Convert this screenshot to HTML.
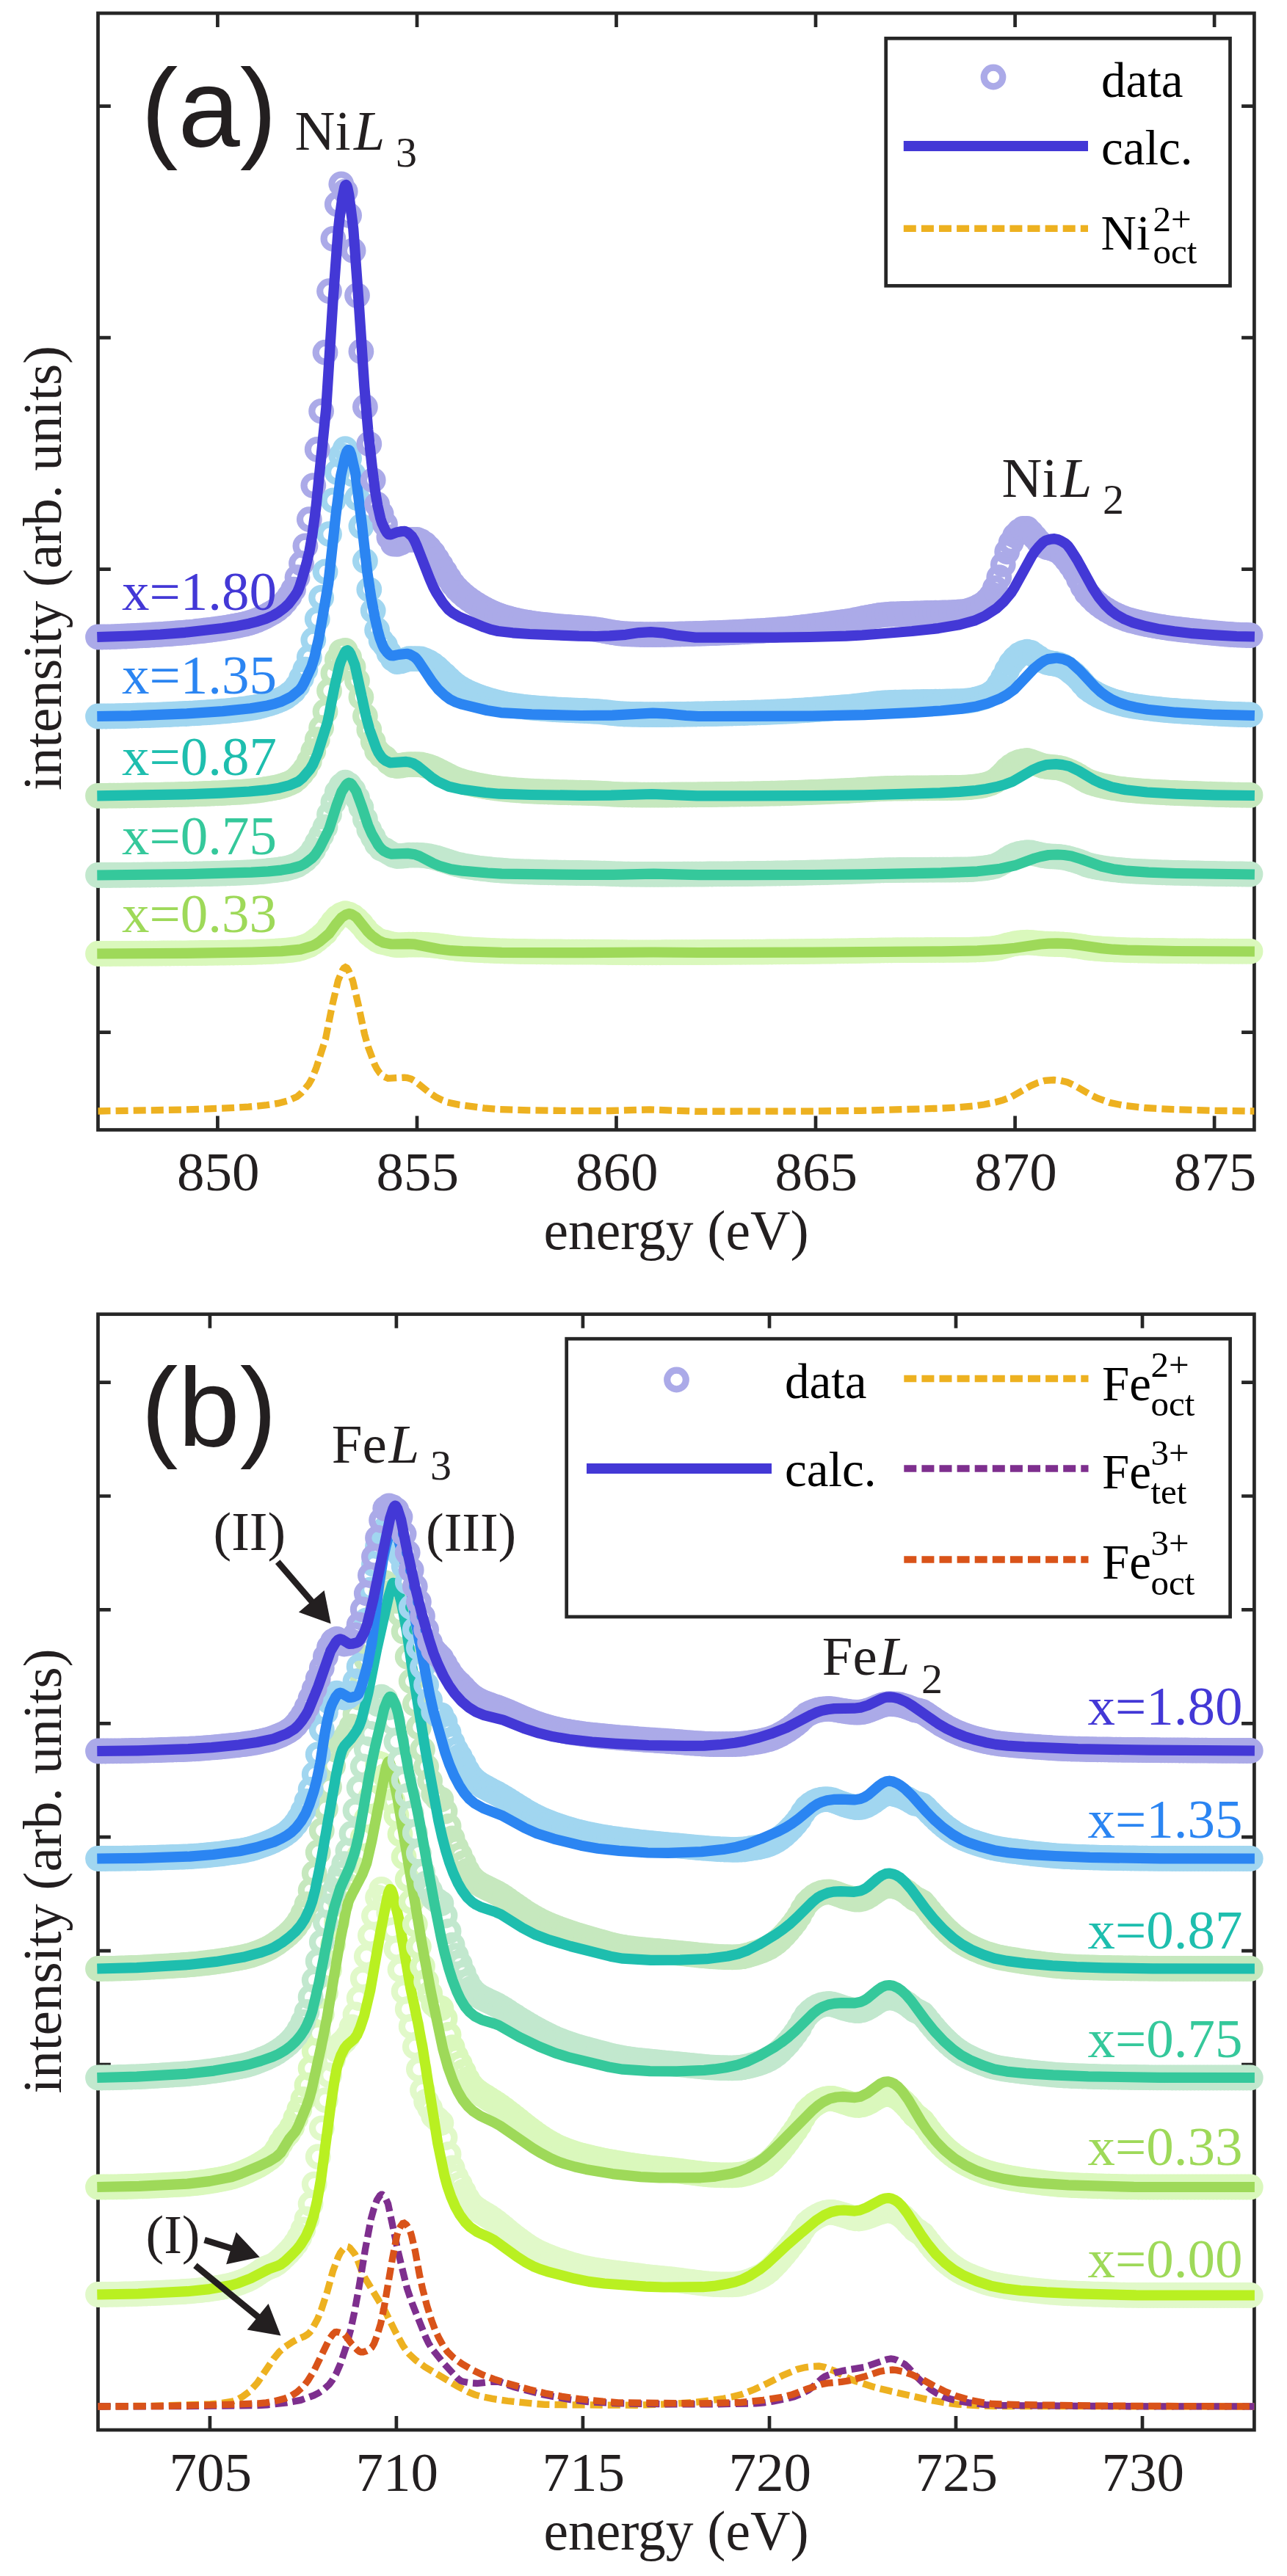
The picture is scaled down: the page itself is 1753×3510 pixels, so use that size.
<!DOCTYPE html>
<html><head><meta charset="utf-8"><title>XAS spectra</title>
<style>html,body{margin:0;padding:0;background:#fff}svg{display:block}</style></head>
<body>
<svg width="1753" height="3510" viewBox="0 0 1753 3510">
<defs><marker id="ma0" markerUnits="userSpaceOnUse" markerWidth="40" markerHeight="40" refX="20" refY="20" overflow="visible"><circle cx="20" cy="20" r="12.8" fill="none" stroke="#daf8bc" stroke-width="9.2"/></marker><marker id="ma1" markerUnits="userSpaceOnUse" markerWidth="40" markerHeight="40" refX="20" refY="20" overflow="visible"><circle cx="20" cy="20" r="12.8" fill="none" stroke="#c2e8ce" stroke-width="9.2"/></marker><marker id="ma2" markerUnits="userSpaceOnUse" markerWidth="40" markerHeight="40" refX="20" refY="20" overflow="visible"><circle cx="20" cy="20" r="12.8" fill="none" stroke="#c6e8be" stroke-width="9.2"/></marker><marker id="ma3" markerUnits="userSpaceOnUse" markerWidth="40" markerHeight="40" refX="20" refY="20" overflow="visible"><circle cx="20" cy="20" r="12.8" fill="none" stroke="#a1d6f0" stroke-width="9.2"/></marker><marker id="ma4" markerUnits="userSpaceOnUse" markerWidth="40" markerHeight="40" refX="20" refY="20" overflow="visible"><circle cx="20" cy="20" r="12.8" fill="none" stroke="#abaae8" stroke-width="9.2"/></marker><marker id="mb0" markerUnits="userSpaceOnUse" markerWidth="40" markerHeight="40" refX="20" refY="20" overflow="visible"><circle cx="20" cy="20" r="12.8" fill="none" stroke="#e1f9c9" stroke-width="9.2"/></marker><marker id="mb1" markerUnits="userSpaceOnUse" markerWidth="40" markerHeight="40" refX="20" refY="20" overflow="visible"><circle cx="20" cy="20" r="12.8" fill="none" stroke="#daf8bc" stroke-width="9.2"/></marker><marker id="mb2" markerUnits="userSpaceOnUse" markerWidth="40" markerHeight="40" refX="20" refY="20" overflow="visible"><circle cx="20" cy="20" r="12.8" fill="none" stroke="#c2e8ce" stroke-width="9.2"/></marker><marker id="mb3" markerUnits="userSpaceOnUse" markerWidth="40" markerHeight="40" refX="20" refY="20" overflow="visible"><circle cx="20" cy="20" r="12.8" fill="none" stroke="#c6e8be" stroke-width="9.2"/></marker><marker id="mb4" markerUnits="userSpaceOnUse" markerWidth="40" markerHeight="40" refX="20" refY="20" overflow="visible"><circle cx="20" cy="20" r="12.8" fill="none" stroke="#a1d6f0" stroke-width="9.2"/></marker><marker id="mb5" markerUnits="userSpaceOnUse" markerWidth="40" markerHeight="40" refX="20" refY="20" overflow="visible"><circle cx="20" cy="20" r="12.8" fill="none" stroke="#abaae8" stroke-width="9.2"/></marker></defs>
<rect width="1753" height="3510" fill="#fff"/>
<rect x="133.5" y="18" width="1574.9" height="1521.5" fill="none" stroke="#262626" stroke-width="4.7"/>
<path d="M296.4,1539.5 v-19 M296.4,18 v19 M568,1539.5 v-19 M568,18 v19 M839.5,1539.5 v-19 M839.5,18 v19 M1111,1539.5 v-19 M1111,18 v19 M1382.6,1539.5 v-19 M1382.6,18 v19 M1654.1,1539.5 v-19 M1654.1,18 v19 M133.5,144.6 h17.3 M1708.4,144.6 h-17.3 M133.5,460.1 h17.3 M1708.4,460.1 h-17.3 M133.5,775.6 h17.3 M1708.4,775.6 h-17.3 M133.5,1091.2 h17.3 M1708.4,1091.2 h-17.3 M133.5,1406.7 h17.3 M1708.4,1406.7 h-17.3" fill="none" stroke="#262626" stroke-width="4.7"/>
<path d="M133.5,1514 252.5,1512 302.5,1510.2 338.5,1508.2 361.5,1506 378.5,1503.4 392.5,1499.7 404.5,1494.4 410.5,1489.2 420.5,1477.3 424.5,1470.3 430.5,1455.9 443.5,1415.3 452.5,1370.2 460.5,1336.2 466.5,1322 468.5,1319 470.5,1317.8 472.5,1318.9 474.5,1321.8 480.5,1336.3 488.5,1370.9 496.5,1408.9 501.5,1426.7 510.5,1450.9 513.5,1456.7 517.5,1462.4 523.5,1467.2 528.5,1469.4 550.5,1468.1 554.5,1468.6 560.5,1470.4 566.5,1474 584.5,1488.6 593.5,1494.7 602.5,1499.2 609.5,1501.9 625.5,1505.4 659.5,1509.9 678.5,1511.5 720.5,1512.8 787.5,1513.7 830.5,1513.5 885.5,1511.9 947.5,1514.3 1102.5,1514.1 1173.5,1513.3 1277.5,1510.3 1304.5,1508.9 1326.5,1507 1340.5,1505 1356.5,1501.7 1366.5,1498.9 1376.5,1495.1 1404.5,1479.2 1413.5,1475.3 1423.5,1472.3 1435.5,1471.5 1444.5,1472.4 1453.5,1474.4 1466.5,1480.6 1487.5,1492.8 1495.5,1496.7 1511.5,1502.4 1530.5,1506.3 1559.5,1509.5 1598.5,1511.7 1654.5,1513.3 1708.4,1514" fill="none" stroke="#edb120" stroke-width="9.3" stroke-dasharray="17 7.1"/>
<polyline points="133.5,1299.5 138.9,1299.5 144.4,1299.5 149.8,1299.5 155.2,1299.4 160.7,1299.4 166.1,1299.4 171.5,1299.4 176.9,1299.3 182.4,1299.3 187.8,1299.3 193.2,1299.2 198.7,1299.2 204.1,1299.1 209.5,1299.1 215,1299.1 220.4,1299 225.8,1299 231.3,1299 236.7,1298.9 242.1,1298.9 247.5,1298.8 253,1298.8 258.4,1298.7 263.8,1298.7 269.3,1298.6 274.7,1298.5 280.1,1298.5 285.6,1298.4 291,1298.3 296.4,1298.3 301.9,1298.2 307.3,1298.1 312.7,1298 318.1,1298 323.6,1297.9 329,1297.8 334.4,1297.6 339.9,1297.5 345.3,1297.4 350.7,1297.2 356.2,1297 361.6,1296.8 367,1296.6 372.5,1296.3 377.9,1296 383.3,1295.7 388.7,1295.2 394.2,1294.7 399.6,1294 405,1293.1 410.5,1291.6 415.9,1289.8 421.3,1287.6 426.8,1284.2 432.2,1280.1 437.6,1275.7 443,1270.9 448.5,1263.5 453.9,1256.4 459.3,1250.3 464.8,1246.6 470.2,1244.7 475.6,1246.2 481.1,1249.2 486.5,1253.7 491.9,1259.2 497.4,1266.1 502.8,1272.3 508.2,1276.6 513.6,1280.7 519.1,1283.2 524.5,1284.2 529.9,1285.6 535.4,1287 540.8,1287.7 546.2,1287.6 551.7,1287.4 557.1,1287.1 562.5,1287.1 568,1287.1 573.4,1287.1 578.8,1287.3 584.2,1287.6 589.7,1288.1 595.1,1288.7 600.5,1289.5 606,1290.2 611.4,1291 616.8,1291.7 622.3,1292.4 627.7,1292.9 633.1,1293.3 638.6,1293.7 644,1294.1 649.4,1294.4 654.8,1294.7 660.3,1295 665.7,1295.2 671.1,1295.4 676.6,1295.7 682,1295.8 687.4,1296 692.9,1296.1 698.3,1296.2 703.7,1296.4 709.2,1296.5 714.6,1296.5 720,1296.6 725.4,1296.7 730.9,1296.8 736.3,1296.8 741.7,1296.9 747.2,1296.9 752.6,1297 758,1297 763.5,1297 768.9,1297.1 774.3,1297.1 779.8,1297.1 785.2,1297.1 790.6,1297.2 796,1297.2 801.5,1297.2 806.9,1297.2 812.3,1297.3 817.8,1297.3 823.2,1297.4 828.6,1297.5 834.1,1297.6 839.5,1297.6 844.9,1297.7 850.4,1297.7 855.8,1297.8 861.2,1297.8 866.6,1297.8 872.1,1297.8 877.5,1297.8 882.9,1297.8 888.4,1297.8 893.8,1297.8 899.2,1297.8 904.7,1297.7 910.1,1297.7 915.5,1297.7 921,1297.7 926.4,1297.7 931.8,1297.6 937.2,1297.6 942.7,1297.6 948.1,1297.6 953.5,1297.6 959,1297.5 964.4,1297.5 969.8,1297.5 975.3,1297.5 980.7,1297.4 986.1,1297.4 991.5,1297.4 997,1297.3 1002.4,1297.3 1007.8,1297.3 1013.3,1297.2 1018.7,1297.2 1024.1,1297.2 1029.6,1297.1 1035,1297.1 1040.4,1297.1 1045.9,1297 1051.3,1297 1056.7,1296.9 1062.1,1296.9 1067.6,1296.8 1073,1296.8 1078.4,1296.7 1083.9,1296.7 1089.3,1296.6 1094.7,1296.6 1100.2,1296.5 1105.6,1296.4 1111,1296.4 1116.5,1296.3 1121.9,1296.2 1127.3,1296.1 1132.7,1296.1 1138.2,1296 1143.6,1295.9 1149,1295.8 1154.5,1295.8 1159.9,1295.7 1165.3,1295.6 1170.8,1295.5 1176.2,1295.4 1181.6,1295.3 1187.1,1295.2 1192.5,1295.1 1197.9,1295 1203.3,1294.9 1208.8,1294.8 1214.2,1294.8 1219.6,1294.7 1225.1,1294.7 1230.5,1294.7 1235.9,1294.7 1241.4,1294.6 1246.8,1294.6 1252.2,1294.6 1257.7,1294.6 1263.1,1294.5 1268.5,1294.5 1273.9,1294.5 1279.4,1294.5 1284.8,1294.5 1290.2,1294.4 1295.7,1294.4 1301.1,1294.4 1306.5,1294.3 1312,1294.3 1317.4,1294.3 1322.8,1294.1 1328.3,1294 1333.7,1293.8 1339.1,1293.5 1344.5,1293.2 1350,1292.8 1355.4,1292.2 1360.8,1291.1 1366.3,1289.8 1371.7,1288.2 1377.1,1286.8 1382.6,1285.7 1388,1284.9 1393.4,1284.5 1398.9,1284.2 1404.3,1284.3 1409.7,1284.8 1415.1,1285.3 1420.6,1285.8 1426,1286.2 1431.4,1286.4 1436.9,1286.5 1442.3,1286.6 1447.7,1286.9 1453.2,1287.3 1458.6,1287.9 1464,1288.6 1469.4,1289.3 1474.9,1290.2 1480.3,1291.1 1485.7,1291.8 1491.2,1292.3 1496.6,1292.7 1502,1293.1 1507.5,1293.5 1512.9,1293.7 1518.3,1294 1523.8,1294.2 1529.2,1294.4 1534.6,1294.6 1540,1294.8 1545.5,1294.9 1550.9,1295 1556.3,1295.1 1561.8,1295.2 1567.2,1295.3 1572.6,1295.4 1578.1,1295.5 1583.5,1295.5 1588.9,1295.6 1594.4,1295.7 1599.8,1295.7 1605.2,1295.8 1610.6,1295.8 1616.1,1295.9 1621.5,1295.9 1626.9,1295.9 1632.4,1296 1637.8,1296 1643.2,1296.1 1648.7,1296.1 1654.1,1296.1 1659.5,1296.2 1665,1296.2 1670.4,1296.2 1675.8,1296.3 1681.2,1296.3 1686.7,1296.3 1692.1,1296.3 1697.5,1296.3 1703,1296.3" fill="none" stroke="none" style="marker:url(#ma0)"/>
<path d="M132.3,1299.5 254.3,1298.8 342.3,1297.5 383.3,1296.1 409.3,1293.6 425.3,1288.9 429.3,1287 435.3,1283.1 448.3,1272 458.3,1258.3 465.3,1250.1 471.3,1246.2 475.3,1244.9 479.3,1245.9 485.3,1249.8 501.3,1269.7 506.3,1274.6 515.3,1281.3 522.3,1284.5 533.3,1286.5 555.3,1286.1 565.3,1286.7 598.3,1293.3 614.3,1295.2 630.3,1296.2 683.3,1297.8 792.3,1298.2 890.3,1297.5 952.3,1298 1107.3,1297.7 1282.3,1296.3 1331.3,1295.3 1362.3,1293.7 1382.3,1291.8 1417.3,1286.5 1428.3,1285.6 1440.3,1285.3 1459.3,1286.2 1500.3,1292.1 1516.3,1293.7 1535.3,1294.7 1601.3,1296 1708.9,1296.5" fill="none" stroke="#9ed959" stroke-width="14.2" stroke-linejoin="round"/>
<text x="166" y="1270" font-family='"Liberation Serif", serif' font-size="75" fill="#9ed959" text-anchor="start">x=0.33</text>
<polyline points="133.5,1192.5 138.9,1192.5 144.4,1192.5 149.8,1192.5 155.2,1192.4 160.7,1192.4 166.1,1192.4 171.5,1192.3 176.9,1192.3 182.4,1192.2 187.8,1192.1 193.2,1192.1 198.7,1192 204.1,1192 209.5,1191.9 215,1191.8 220.4,1191.8 225.8,1191.7 231.3,1191.6 236.7,1191.5 242.1,1191.4 247.5,1191.3 253,1191.2 258.4,1191.1 263.8,1191 269.3,1190.9 274.7,1190.8 280.1,1190.7 285.6,1190.6 291,1190.4 296.4,1190.3 301.9,1190.1 307.3,1190 312.7,1189.8 318.1,1189.6 323.6,1189.4 329,1189.2 334.4,1188.9 339.9,1188.7 345.3,1188.4 350.7,1188 356.2,1187.6 361.6,1187.1 367,1186.5 372.5,1185.9 377.9,1185.3 383.3,1184.5 388.7,1183.6 394.2,1182.3 399.6,1180.7 405,1178.6 410.5,1175.1 415.9,1171.1 421.3,1165.8 426.8,1158.1 432.2,1148.4 437.6,1138.3 443,1127 448.5,1109.8 453.9,1093.4 459.3,1079.3 464.8,1070.7 470.2,1066.2 475.6,1069.7 481.1,1076.7 486.5,1087.3 491.9,1100 497.4,1116.2 502.8,1130.6 508.2,1140.6 513.6,1150.3 519.1,1156.1 524.5,1158.4 529.9,1161.8 535.4,1165 540.8,1166.5 546.2,1166.4 551.7,1165.9 557.1,1165.2 562.5,1165.2 568,1165.2 573.4,1165.3 578.8,1165.8 584.2,1166.6 589.7,1167.8 595.1,1169.2 600.5,1170.9 606,1172.7 611.4,1174.4 616.8,1176.2 622.3,1177.8 627.7,1179 633.1,1180.1 638.6,1181 644,1181.8 649.4,1182.6 654.8,1183.3 660.3,1183.9 665.7,1184.5 671.1,1185.1 676.6,1185.6 682,1186 687.4,1186.4 692.9,1186.8 698.3,1187.1 703.7,1187.4 709.2,1187.6 714.6,1187.8 720,1188 725.4,1188.2 730.9,1188.4 736.3,1188.5 741.7,1188.7 747.2,1188.8 752.6,1188.9 758,1189 763.5,1189.1 768.9,1189.2 774.3,1189.3 779.8,1189.4 785.2,1189.5 790.6,1189.5 796,1189.6 801.5,1189.7 806.9,1189.8 812.3,1189.9 817.8,1190.1 823.2,1190.2 828.6,1190.4 834.1,1190.6 839.5,1190.8 844.9,1191 850.4,1191.1 855.8,1191.2 861.2,1191.3 866.6,1191.3 872.1,1191.3 877.5,1191.4 882.9,1191.4 888.4,1191.4 893.8,1191.4 899.2,1191.4 904.7,1191.4 910.1,1191.3 915.5,1191.3 921,1191.3 926.4,1191.3 931.8,1191.2 937.2,1191.2 942.7,1191.2 948.1,1191.1 953.5,1191.1 959,1191.1 964.4,1191 969.8,1191 975.3,1190.9 980.7,1190.9 986.1,1190.9 991.5,1190.8 997,1190.8 1002.4,1190.7 1007.8,1190.6 1013.3,1190.6 1018.7,1190.5 1024.1,1190.5 1029.6,1190.4 1035,1190.3 1040.4,1190.3 1045.9,1190.2 1051.3,1190.1 1056.7,1190 1062.1,1190 1067.6,1189.9 1073,1189.8 1078.4,1189.7 1083.9,1189.5 1089.3,1189.4 1094.7,1189.3 1100.2,1189.2 1105.6,1189 1111,1188.9 1116.5,1188.8 1121.9,1188.6 1127.3,1188.5 1132.7,1188.3 1138.2,1188.2 1143.6,1188 1149,1187.9 1154.5,1187.7 1159.9,1187.5 1165.3,1187.3 1170.8,1187.1 1176.2,1186.9 1181.6,1186.7 1187.1,1186.4 1192.5,1186.2 1197.9,1186 1203.3,1185.8 1208.8,1185.7 1214.2,1185.6 1219.6,1185.6 1225.1,1185.5 1230.5,1185.5 1235.9,1185.4 1241.4,1185.4 1246.8,1185.4 1252.2,1185.3 1257.7,1185.3 1263.1,1185.3 1268.5,1185.2 1273.9,1185.2 1279.4,1185.2 1284.8,1185.1 1290.2,1185.1 1295.7,1185.1 1301.1,1185 1306.5,1185 1312,1184.9 1317.4,1184.8 1322.8,1184.6 1328.3,1184.2 1333.7,1183.7 1339.1,1183.2 1344.5,1182.5 1350,1181.5 1355.4,1180.1 1360.8,1177.7 1366.3,1174.6 1371.7,1170.9 1377.1,1167.6 1382.6,1165.2 1388,1163.3 1393.4,1162.3 1398.9,1161.6 1404.3,1161.8 1409.7,1163.1 1415.1,1164.3 1420.6,1165.6 1426,1166.4 1431.4,1166.9 1436.9,1167.2 1442.3,1167.5 1447.7,1168.2 1453.2,1169.2 1458.6,1170.6 1464,1172.1 1469.4,1173.9 1474.9,1176 1480.3,1178.1 1485.7,1179.7 1491.2,1180.9 1496.6,1181.9 1502,1182.8 1507.5,1183.6 1512.9,1184.3 1518.3,1184.9 1523.8,1185.5 1529.2,1186 1534.6,1186.4 1540,1186.8 1545.5,1187.1 1550.9,1187.4 1556.3,1187.7 1561.8,1187.9 1567.2,1188.2 1572.6,1188.4 1578.1,1188.6 1583.5,1188.8 1588.9,1189 1594.4,1189.1 1599.8,1189.3 1605.2,1189.4 1610.6,1189.5 1616.1,1189.7 1621.5,1189.8 1626.9,1189.9 1632.4,1190 1637.8,1190.1 1643.2,1190.3 1648.7,1190.4 1654.1,1190.5 1659.5,1190.6 1665,1190.7 1670.4,1190.8 1675.8,1190.8 1681.2,1190.9 1686.7,1191 1692.1,1191 1697.5,1191.1 1703,1191.1" fill="none" stroke="none" style="marker:url(#ma1)"/>
<path d="M132.3,1192.5 254.3,1191.2 342.3,1188.7 365.3,1187.4 383.3,1185.6 397.3,1183.2 409.3,1179.9 415.3,1176.6 425.3,1169 429.3,1164.6 435.3,1155.5 448.3,1129.6 458.3,1097.8 465.3,1078.9 471.3,1069.7 473.3,1067.6 475.3,1066.7 477.3,1067.3 479.3,1069.1 485.3,1078.2 493.3,1100.1 501.3,1124.5 506.3,1136 515.3,1151.6 518.3,1155.4 522.3,1159.1 528.3,1162.2 533.3,1163.7 555.3,1162.9 565.3,1164.3 571.3,1166.5 589.3,1175.9 598.3,1179.8 614.3,1184.4 630.3,1186.7 664.3,1189.5 683.3,1190.6 792.3,1191.9 835.3,1191.8 890.3,1190.7 952.3,1192.2 1107.3,1192 1178.3,1191.4 1282.3,1189.4 1331.3,1187.3 1362.3,1183.8 1382.3,1179.3 1409.3,1169.5 1417.3,1167.2 1428.3,1165 1440.3,1164.5 1449.3,1165 1459.3,1166.5 1472.3,1170.5 1500.3,1180.5 1516.3,1184.2 1535.3,1186.7 1564.3,1188.7 1601.3,1190 1708.9,1191.5" fill="none" stroke="#35c89b" stroke-width="14.2" stroke-linejoin="round"/>
<text x="166" y="1164" font-family='"Liberation Serif", serif' font-size="75" fill="#35c89b" text-anchor="start">x=0.75</text>
<polyline points="133.5,1084.3 138.9,1084.3 144.4,1084.3 149.8,1084.2 155.2,1084.2 160.7,1084.1 166.1,1084.1 171.5,1084 176.9,1083.9 182.4,1083.8 187.8,1083.7 193.2,1083.6 198.7,1083.5 204.1,1083.5 209.5,1083.4 215,1083.3 220.4,1083.1 225.8,1083 231.3,1082.9 236.7,1082.8 242.1,1082.6 247.5,1082.5 253,1082.3 258.4,1082.2 263.8,1082 269.3,1081.8 274.7,1081.7 280.1,1081.5 285.6,1081.3 291,1081 296.4,1080.8 301.9,1080.6 307.3,1080.3 312.7,1080 318.1,1079.7 323.6,1079.4 329,1079.1 334.4,1078.7 339.9,1078.2 345.3,1077.7 350.7,1077.1 356.2,1076.4 361.6,1075.5 367,1074.6 372.5,1073.7 377.9,1072.6 383.3,1071.2 388.7,1069.5 394.2,1067.3 399.6,1064.7 405,1060.2 410.5,1054.2 415.9,1047.4 421.3,1037.2 426.8,1023.4 432.2,1007.7 437.6,991.7 443,969.5 448.5,941.2 453.9,917.4 459.3,898.8 464.8,887.9 470.2,886.4 475.6,895.6 481.1,908.8 486.5,927.5 491.9,949.9 497.4,975.7 502.8,994.4 508.2,1010.4 513.6,1023.3 519.1,1029.1 524.5,1032.8 529.9,1039 535.4,1042.6 540.8,1043.7 546.2,1043.2 551.7,1042.2 557.1,1041.6 562.5,1041.6 568,1041.6 573.4,1042 578.8,1043.1 584.2,1044.6 589.7,1046.6 595.1,1049.1 600.5,1051.9 606,1054.6 611.4,1057.5 616.8,1060.2 622.3,1062.4 627.7,1064.2 633.1,1065.8 638.6,1067.2 644,1068.5 649.4,1069.6 654.8,1070.7 660.3,1071.7 665.7,1072.6 671.1,1073.4 676.6,1074.2 682,1074.8 687.4,1075.4 692.9,1075.9 698.3,1076.4 703.7,1076.8 709.2,1077.2 714.6,1077.6 720,1077.9 725.4,1078.1 730.9,1078.4 736.3,1078.6 741.7,1078.8 747.2,1079 752.6,1079.2 758,1079.4 763.5,1079.6 768.9,1079.7 774.3,1079.8 779.8,1080 785.2,1080.1 790.6,1080.2 796,1080.4 801.5,1080.5 806.9,1080.7 812.3,1080.9 817.8,1081.1 823.2,1081.4 828.6,1081.7 834.1,1082.1 839.5,1082.4 844.9,1082.6 850.4,1082.8 855.8,1082.9 861.2,1083 866.6,1083 872.1,1083.1 877.5,1083.1 882.9,1083.1 888.4,1083.1 893.8,1083.1 899.2,1083.1 904.7,1083.1 910.1,1083.1 915.5,1083 921,1083 926.4,1083 931.8,1082.9 937.2,1082.9 942.7,1082.8 948.1,1082.8 953.5,1082.7 959,1082.7 964.4,1082.6 969.8,1082.6 975.3,1082.5 980.7,1082.4 986.1,1082.4 991.5,1082.3 997,1082.2 1002.4,1082.1 1007.8,1082 1013.3,1081.9 1018.7,1081.9 1024.1,1081.8 1029.6,1081.7 1035,1081.6 1040.4,1081.4 1045.9,1081.3 1051.3,1081.2 1056.7,1081.1 1062.1,1081 1067.6,1080.8 1073,1080.7 1078.4,1080.5 1083.9,1080.3 1089.3,1080.1 1094.7,1079.9 1100.2,1079.7 1105.6,1079.5 1111,1079.3 1116.5,1079.1 1121.9,1078.9 1127.3,1078.6 1132.7,1078.4 1138.2,1078.2 1143.6,1077.9 1149,1077.7 1154.5,1077.5 1159.9,1077.2 1165.3,1076.8 1170.8,1076.5 1176.2,1076.1 1181.6,1075.8 1187.1,1075.4 1192.5,1075.1 1197.9,1074.8 1203.3,1074.6 1208.8,1074.4 1214.2,1074.3 1219.6,1074.2 1225.1,1074.1 1230.5,1074.1 1235.9,1074 1241.4,1074 1246.8,1073.9 1252.2,1073.9 1257.7,1073.8 1263.1,1073.8 1268.5,1073.7 1273.9,1073.7 1279.4,1073.6 1284.8,1073.6 1290.2,1073.5 1295.7,1073.5 1301.1,1073.4 1306.5,1073.3 1312,1073.2 1317.4,1072.9 1322.8,1072.5 1328.3,1071.8 1333.7,1071.1 1339.1,1070.1 1344.5,1068.8 1350,1067 1355.4,1064.2 1360.8,1059.7 1366.3,1054.5 1371.7,1048.6 1377.1,1044.1 1382.6,1040.7 1388,1038.5 1393.4,1037.1 1398.9,1036.5 1404.3,1037.8 1409.7,1039.9 1415.1,1041.8 1420.6,1043.6 1426,1044.6 1431.4,1045.1 1436.9,1045.6 1442.3,1046.3 1447.7,1047.7 1453.2,1049.6 1458.6,1051.9 1464,1054.4 1469.4,1057.5 1474.9,1061 1480.3,1064 1485.7,1066.1 1491.2,1067.9 1496.6,1069.4 1502,1070.8 1507.5,1072 1512.9,1073 1518.3,1073.9 1523.8,1074.8 1529.2,1075.5 1534.6,1076.2 1540,1076.7 1545.5,1077.2 1550.9,1077.6 1556.3,1078.1 1561.8,1078.4 1567.2,1078.8 1572.6,1079.1 1578.1,1079.4 1583.5,1079.7 1588.9,1080 1594.4,1080.3 1599.8,1080.5 1605.2,1080.7 1610.6,1080.9 1616.1,1081.1 1621.5,1081.3 1626.9,1081.5 1632.4,1081.7 1637.8,1081.9 1643.2,1082.1 1648.7,1082.2 1654.1,1082.4 1659.5,1082.6 1665,1082.7 1670.4,1082.9 1675.8,1083 1681.2,1083.1 1686.7,1083.2 1692.1,1083.3 1697.5,1083.3 1703,1083.4" fill="none" stroke="none" style="marker:url(#ma2)"/>
<path d="M132.3,1084.3 252.3,1082.4 301.3,1080.6 339.3,1078.5 362.3,1076.4 380.3,1073.7 394.3,1070 406.3,1064.9 412.3,1059.9 422.3,1048.2 426.3,1041.5 432.3,1027.5 446.3,983.4 455.3,937.5 462.3,907 464.3,900.9 469.3,889.8 471.3,887 473.3,886.1 475.3,887.5 477.3,890.7 483.3,905.8 498.3,975 503.3,993.8 512.3,1018.9 515.3,1025.2 519.3,1031.2 521.3,1033.5 525.3,1036.5 531.3,1039.3 553.3,1037.9 557.3,1038.5 563.3,1040.3 568.3,1043.3 587.3,1058.8 596.3,1064.9 611.3,1071.8 628.3,1075.6 661.3,1080 680.3,1081.7 723.3,1083 790.3,1083.8 832.3,1083.7 888.3,1082 949.3,1084.4 1105.3,1084.2 1176.3,1083.4 1280.3,1080.4 1307.3,1078.9 1329.3,1077 1343.3,1075 1359.3,1071.6 1369.3,1068.7 1379.3,1064.8 1407.3,1048.7 1416.3,1044.8 1425.3,1042 1438.3,1041.1 1447.3,1042.1 1456.3,1044.1 1469.3,1050.4 1490.3,1062.8 1498.3,1066.7 1514.3,1072.4 1533.3,1076.3 1562.3,1079.5 1601.3,1081.7 1654.3,1083.3 1708.9,1084" fill="none" stroke="#1ebeae" stroke-width="14.2" stroke-linejoin="round"/>
<text x="166" y="1056" font-family='"Liberation Serif", serif' font-size="75" fill="#1ebeae" text-anchor="start">x=0.87</text>
<polyline points="133.5,976 138.9,976 144.4,976 149.8,975.9 155.2,975.8 160.7,975.7 166.1,975.6 171.5,975.5 176.9,975.3 182.4,975.1 187.8,975 193.2,974.8 198.7,974.6 204.1,974.5 209.5,974.3 215,974.1 220.4,973.9 225.8,973.7 231.3,973.5 236.7,973.2 242.1,973 247.5,972.7 253,972.5 258.4,972.2 263.8,971.9 269.3,971.6 274.7,971.2 280.1,970.9 285.6,970.5 291,970.1 296.4,969.7 301.9,969.2 307.3,968.8 312.7,968.3 318.1,967.7 323.6,967.2 329,966.5 334.4,965.8 339.9,965 345.3,964.2 350.7,963.1 356.2,961.8 361.6,960.3 367,958.7 372.5,957 377.9,955 383.3,952.7 388.7,949.9 394.2,945.9 399.6,941.5 405,934.5 410.5,923.9 415.9,912.1 421.3,895.6 426.8,872 432.2,843.6 437.6,814.4 443,779 448.5,727.7 453.9,682 459.3,643.4 464.8,620.7 470.2,611.6 475.6,624.8 481.1,646.5 486.5,678.7 491.9,717.1 497.4,764.5 502.8,803.3 508.2,832 513.6,858.5 519.1,872.8 524.5,879.3 529.9,889.9 535.4,898 540.8,901.6 546.2,900.9 551.7,899.3 557.1,897.7 562.5,897.7 568,897.7 573.4,898 578.8,899.8 584.2,902.3 589.7,905.8 595.1,910.1 600.5,915.2 606,920.1 611.4,925.3 616.8,930.4 622.3,934.7 627.7,938.2 633.1,941.2 638.6,943.8 644,946.2 649.4,948.4 654.8,950.3 660.3,952.2 665.7,953.9 671.1,955.5 676.6,957 682,958.2 687.4,959.3 692.9,960.3 698.3,961.2 703.7,962 709.2,962.7 714.6,963.3 720,963.9 725.4,964.4 730.9,964.9 736.3,965.3 741.7,965.7 747.2,966.1 752.6,966.5 758,966.8 763.5,967.1 768.9,967.3 774.3,967.6 779.8,967.8 785.2,968.1 790.6,968.3 796,968.5 801.5,968.8 806.9,969.1 812.3,969.4 817.8,969.8 823.2,970.4 828.6,971 834.1,971.6 839.5,972.1 844.9,972.6 850.4,973 855.8,973.2 861.2,973.3 866.6,973.4 872.1,973.5 877.5,973.6 882.9,973.7 888.4,973.7 893.8,973.7 899.2,973.6 904.7,973.6 910.1,973.5 915.5,973.5 921,973.4 926.4,973.3 931.8,973.3 937.2,973.2 942.7,973.1 948.1,973 953.5,972.9 959,972.8 964.4,972.7 969.8,972.6 975.3,972.5 980.7,972.4 986.1,972.2 991.5,972.1 997,972 1002.4,971.8 1007.8,971.7 1013.3,971.5 1018.7,971.3 1024.1,971.1 1029.6,971 1035,970.8 1040.4,970.6 1045.9,970.4 1051.3,970.2 1056.7,969.9 1062.1,969.7 1067.6,969.4 1073,969.2 1078.4,968.9 1083.9,968.5 1089.3,968.2 1094.7,967.8 1100.2,967.5 1105.6,967.1 1111,966.7 1116.5,966.3 1121.9,965.9 1127.3,965.5 1132.7,965 1138.2,964.6 1143.6,964.2 1149,963.7 1154.5,963.3 1159.9,962.8 1165.3,962.2 1170.8,961.6 1176.2,960.9 1181.6,960.3 1187.1,959.6 1192.5,959 1197.9,958.4 1203.3,958 1208.8,957.6 1214.2,957.4 1219.6,957.2 1225.1,957.1 1230.5,957 1235.9,956.9 1241.4,956.8 1246.8,956.7 1252.2,956.6 1257.7,956.5 1263.1,956.4 1268.5,956.3 1273.9,956.2 1279.4,956.1 1284.8,956.1 1290.2,956 1295.7,955.9 1301.1,955.7 1306.5,955.6 1312,955.4 1317.4,955 1322.8,954.3 1328.3,953.2 1333.7,951.8 1339.1,950.2 1344.5,948.1 1350,944.9 1355.4,940.6 1360.8,933 1366.3,923.9 1371.7,913.2 1377.1,904 1382.6,897.4 1388,892.5 1393.4,889.7 1398.9,888.1 1404.3,889.4 1409.7,893.2 1415.1,896.7 1420.6,900.3 1426,902.5 1431.4,903.6 1436.9,904.5 1442.3,905.7 1447.7,907.7 1453.2,911 1458.6,915.1 1464,919.5 1469.4,924.8 1474.9,931.2 1480.3,937.1 1485.7,941.3 1491.2,944.7 1496.6,947.6 1502,950.2 1507.5,952.4 1512.9,954.4 1518.3,956.1 1523.8,957.7 1529.2,959.2 1534.6,960.4 1540,961.5 1545.5,962.4 1550.9,963.2 1556.3,963.9 1561.8,964.7 1567.2,965.3 1572.6,966 1578.1,966.5 1583.5,967.1 1588.9,967.6 1594.4,968.1 1599.8,968.5 1605.2,968.9 1610.6,969.3 1616.1,969.6 1621.5,970 1626.9,970.3 1632.4,970.7 1637.8,971 1643.2,971.4 1648.7,971.7 1654.1,972 1659.5,972.3 1665,972.6 1670.4,972.9 1675.8,973.1 1681.2,973.3 1686.7,973.5 1692.1,973.6 1697.5,973.8 1703,973.8" fill="none" stroke="none" style="marker:url(#ma3)"/>
<path d="M132.3,976 178.3,975.3 254.3,972.4 303.3,969.1 341.3,965.3 364.3,961.4 375.3,958.6 382.3,956.3 396.3,949.5 408.3,939.8 411.3,935.7 414.3,930.3 424.3,908.5 428.3,895.7 434.3,869.4 447.3,794.7 457.3,702.8 464.3,648 470.3,621.3 472.3,615.5 474.3,612.9 475.3,613.1 476.3,614.4 478.3,619.6 484.3,645.9 492.3,709.3 500.3,779.8 505.3,813.1 510.3,839.9 514.3,858.1 517.3,869.2 521.3,879.8 523.3,883.7 527.3,889 530.3,892 532.3,893.2 535.3,893.5 543.3,891.9 554.3,890.8 558.3,891.7 564.3,894.9 567.3,897.6 570.3,901.4 588.3,928.5 597.3,939.8 606.3,948.1 613.3,953.2 620.3,956.6 629.3,959.7 663.3,968 682.3,971.1 724.3,973.4 791.3,975 834.3,974.7 889.3,971.6 905.3,972.3 934.3,975 951.3,976 1106.3,975.6 1177.3,974.1 1245.3,970.8 1281.3,968.5 1308.3,965.9 1330.3,962.4 1345.3,958.4 1361.3,952.2 1371.3,946.7 1381.3,939.5 1408.3,911 1416.3,904.4 1422.3,900.4 1427.3,898.1 1439.3,896.5 1448.3,898.1 1454.3,900.2 1458.3,902.4 1471.3,914.1 1491.3,935.6 1499.3,943 1508.3,949.5 1515.3,953.6 1524.3,957.5 1534.3,960.8 1546.3,963.7 1563.3,966.7 1601.3,970.7 1650.3,973.5 1708.9,975" fill="none" stroke="#2b85f2" stroke-width="14.2" stroke-linejoin="round"/>
<text x="166" y="945" font-family='"Liberation Serif", serif' font-size="75" fill="#2b85f2" text-anchor="start">x=1.35</text>
<polyline points="133.5,868 138.9,868 144.4,867.9 149.8,867.8 155.2,867.6 160.7,867.4 166.1,867.2 171.5,867 176.9,866.7 182.4,866.4 187.8,866.1 193.2,865.8 198.7,865.6 204.1,865.3 209.5,865 215,864.7 220.4,864.3 225.8,863.9 231.3,863.6 236.7,863.1 242.1,862.7 247.5,862.3 253,861.8 258.4,861.3 263.8,860.8 269.3,860.2 274.7,859.6 280.1,859 285.6,858.4 291,857.7 296.4,856.9 301.9,856.1 307.3,855.3 312.7,854.5 318.1,853.5 323.6,852.5 329,851.3 334.4,850.1 339.9,848.7 345.3,847 350.7,844.9 356.2,842.5 361.6,839.9 367,837 372.5,833.9 377.9,830.2 383.3,825.8 388.7,819.8 394.2,812.5 399.6,803.2 405,786.7 410.5,767.7 415.9,743.9 421.3,707.7 426.8,661.6 432.2,612.4 437.6,560.3 443,480.2 448.5,396.7 453.9,325.4 459.3,278.2 464.8,250.8 470.2,260.8 475.6,293.5 481.1,341.5 486.5,402.6 491.9,478.9 497.4,554.5 502.8,604.9 508.2,654.3 513.6,687.2 519.1,700 524.5,714.4 529.9,732 535.4,741 540.8,741.4 546.2,739.5 551.7,735.9 557.1,735.4 562.5,735.4 568,735.4 573.4,737.7 578.8,741.4 584.2,746.8 589.7,753.5 595.1,761.8 600.5,770.4 606,779 611.4,787.8 616.8,795.8 622.3,802.1 627.7,807.4 633.1,812.1 638.6,816.4 644,820.2 649.4,823.6 654.8,826.9 660.3,829.9 665.7,832.7 671.1,835.2 676.6,837.5 682,839.4 687.4,841.1 692.9,842.7 698.3,844.1 703.7,845.4 709.2,846.6 714.6,847.6 720,848.5 725.4,849.3 730.9,850.1 736.3,850.8 741.7,851.4 747.2,852 752.6,852.6 758,853.1 763.5,853.6 768.9,854.1 774.3,854.5 779.8,854.9 785.2,855.3 790.6,855.7 796,856.1 801.5,856.6 806.9,857.1 812.3,857.8 817.8,858.6 823.2,859.6 828.6,860.6 834.1,861.6 839.5,862.5 844.9,863.2 850.4,863.7 855.8,863.9 861.2,864.1 866.6,864.3 872.1,864.5 877.5,864.6 882.9,864.6 888.4,864.6 893.8,864.6 899.2,864.5 904.7,864.5 910.1,864.4 915.5,864.3 921,864.1 926.4,864 931.8,863.9 937.2,863.7 942.7,863.6 948.1,863.4 953.5,863.3 959,863.1 964.4,862.9 969.8,862.7 975.3,862.6 980.7,862.3 986.1,862.1 991.5,861.9 997,861.6 1002.4,861.4 1007.8,861.1 1013.3,860.8 1018.7,860.5 1024.1,860.2 1029.6,859.9 1035,859.6 1040.4,859.3 1045.9,858.9 1051.3,858.6 1056.7,858.2 1062.1,857.7 1067.6,857.3 1073,856.8 1078.4,856.3 1083.9,855.7 1089.3,855.1 1094.7,854.5 1100.2,853.9 1105.6,853.2 1111,852.5 1116.5,851.9 1121.9,851.1 1127.3,850.4 1132.7,849.7 1138.2,849 1143.6,848.2 1149,847.5 1154.5,846.7 1159.9,845.8 1165.3,844.7 1170.8,843.6 1176.2,842.5 1181.6,841.4 1187.1,840.3 1192.5,839.3 1197.9,838.5 1203.3,837.8 1208.8,837.3 1214.2,837 1219.6,836.8 1225.1,836.6 1230.5,836.4 1235.9,836.3 1241.4,836.2 1246.8,836 1252.2,835.9 1257.7,835.7 1263.1,835.5 1268.5,835.4 1273.9,835.2 1279.4,835.1 1284.8,834.9 1290.2,834.8 1295.7,834.6 1301.1,834.3 1306.5,834 1312,833.6 1317.4,832.6 1322.8,831 1328.3,828.8 1333.7,826.2 1339.1,823.1 1344.5,818.4 1350,812 1355.4,801.3 1360.8,786.6 1366.3,769.2 1371.7,751.8 1377.1,739.5 1382.6,729.8 1388,724.2 1393.4,720.5 1398.9,720.4 1404.3,725.9 1409.7,732.1 1415.1,738.4 1420.6,743.2 1426,745.6 1431.4,747.1 1436.9,748.8 1442.3,751.5 1447.7,756.4 1453.2,762.9 1458.6,770.3 1464,778.5 1469.4,788.9 1474.9,799.5 1480.3,807.9 1485.7,813.8 1491.2,819.1 1496.6,823.7 1502,827.7 1507.5,831.2 1512.9,834.3 1518.3,837.1 1523.8,839.6 1529.2,841.8 1534.6,843.8 1540,845.4 1545.5,846.8 1550.9,848.2 1556.3,849.4 1561.8,850.6 1567.2,851.6 1572.6,852.7 1578.1,853.6 1583.5,854.5 1588.9,855.3 1594.4,856.1 1599.8,856.8 1605.2,857.5 1610.6,858.1 1616.1,858.7 1621.5,859.3 1626.9,859.9 1632.4,860.5 1637.8,861.1 1643.2,861.7 1648.7,862.2 1654.1,862.7 1659.5,863.2 1665,863.7 1670.4,864.1 1675.8,864.5 1681.2,864.8 1686.7,865.1 1692.1,865.3 1697.5,865.5 1703,865.6" fill="none" stroke="none" style="marker:url(#ma4)"/>
<path d="M132.3,868 180.3,866.5 218.3,864.5 252.3,861.8 303.3,856 323.3,852.9 339.3,849.7 351.3,846.6 362.3,842.9 372.3,838.5 379.3,834.4 387.3,828.4 393.3,822.8 401.3,812.3 405.3,806 408.3,798.7 411.3,789.2 417.3,768.3 421.3,751.8 425.3,729.3 430.3,692.3 444.3,555.6 453.3,413.2 460.3,318.1 462.3,298.7 466.3,270 469.3,255 470.3,252.6 471.3,251.8 472.3,253 473.3,255.8 475.3,265.6 481.3,312.2 489.3,421.4 496.3,526.9 501.3,585.9 507.3,640.7 511.3,671.1 514.3,689 518.3,706.6 520.3,712.7 524.3,721.3 527.3,726.3 529.3,728.1 532.3,728.3 540.3,725.4 547.3,724 551.3,723.8 555.3,725.6 561.3,731.1 564.3,736 567.3,742.6 585.3,788.6 590.3,800.1 594.3,807.6 603.3,821.6 610.3,830.1 617.3,835.7 626.3,840.9 659.3,854.6 669.3,857.9 678.3,860 698.3,862.3 721.3,864 788.3,866.7 812.3,867 830.3,866.4 852.3,864.8 870.3,862.1 886.3,861.2 902.3,862.3 920.3,865.5 947.3,868.6 1057.3,868.6 1103.3,868 1152.3,866.7 1174.3,865.5 1242.3,860 1278.3,856.1 1305.3,851.6 1327.3,845.7 1341.3,839.4 1357.3,829 1367.3,819.8 1377.3,807.8 1382.3,799.7 1405.3,757.9 1409.3,751.8 1414.3,745.7 1420.3,739.3 1424.3,736.5 1431.3,734.6 1436.3,734.2 1440.3,734.9 1445.3,737 1451.3,740.6 1454.3,743.4 1458.3,748.7 1467.3,762.9 1488.3,801.2 1496.3,813.5 1505.3,824.4 1512.3,831.3 1521.3,837.9 1531.3,843.5 1543.3,848.4 1560.3,853.3 1577.3,856.9 1599.3,860.3 1624.3,863.2 1655.3,865.4 1684.3,867 1708.9,867.5" fill="none" stroke="#4338d6" stroke-width="14.2" stroke-linejoin="round"/>
<text x="166" y="831" font-family='"Liberation Serif", serif' font-size="75" fill="#4338d6" text-anchor="start">x=1.80</text>
<text x="297.2" y="1622.3" font-family='"Liberation Serif", serif' font-size="75" fill="#231f20" text-anchor="middle">850</text>
<text x="568.8" y="1622.3" font-family='"Liberation Serif", serif' font-size="75" fill="#231f20" text-anchor="middle">855</text>
<text x="840.3" y="1622.3" font-family='"Liberation Serif", serif' font-size="75" fill="#231f20" text-anchor="middle">860</text>
<text x="1111.8" y="1622.3" font-family='"Liberation Serif", serif' font-size="75" fill="#231f20" text-anchor="middle">865</text>
<text x="1383.4" y="1622.3" font-family='"Liberation Serif", serif' font-size="75" fill="#231f20" text-anchor="middle">870</text>
<text x="1654.9" y="1622.3" font-family='"Liberation Serif", serif' font-size="75" fill="#231f20" text-anchor="middle">875</text>
<text x="921" y="1702" font-family='"Liberation Serif", serif' font-size="75.5" fill="#231f20" text-anchor="middle">energy (eV)</text>
<text transform="translate(83.2,774) rotate(-90)" font-family='"Liberation Serif", serif' font-size="75" fill="#231f20" text-anchor="middle">intensity (arb. units)</text>
<text x="192" y="199.7" font-family='"Liberation Sans", sans-serif' font-size="151.5" fill="#231f20" text-anchor="start">(a)</text>
<text y="203.5" font-family='"Liberation Serif", serif' font-size="76" fill="#231f20"><tspan x="401.5">Ni</tspan><tspan x="482" font-style="italic">L</tspan><tspan x="539" y="226.8" font-size="58">3</tspan></text>
<text y="677.2" font-family='"Liberation Serif", serif' font-size="76" fill="#231f20"><tspan x="1364.5">Ni</tspan><tspan x="1445" font-style="italic">L</tspan><tspan x="1502" y="699.5" font-size="58">2</tspan></text>
<rect x="1206.7" y="52.3" width="468.8" height="337.1" fill="#fff" stroke="#262626" stroke-width="4.7"/>
<circle cx="1353" cy="105" r="12.8" fill="none" stroke="#abaae8" stroke-width="9.2"/>
<path d="M1230.8,199H1482" stroke="#4338d6" stroke-width="14" fill="none"/>
<path d="M1230.8,311.3H1482" stroke="#edb120" stroke-width="9.3" stroke-dasharray="17 7.1" fill="none"/>
<text x="1500" y="131.5" font-family='"Liberation Serif", serif' font-size="67" fill="#000" text-anchor="start">data</text>
<text x="1500" y="224" font-family='"Liberation Serif", serif' font-size="67" fill="#000" text-anchor="start">calc.</text>
<text x="1499.5" y="340.2" font-family='"Liberation Serif", serif' font-size="67" fill="#000" text-anchor="start">Ni</text>
<text x="1570.5" y="314.5" font-family='"Liberation Serif", serif' font-size="49" fill="#000" text-anchor="start">2+</text>
<text x="1570.5" y="358.5" font-family='"Liberation Serif", serif' font-size="49" fill="#000" text-anchor="start">oct</text>
<rect x="133.5" y="1790.7" width="1574.9" height="1520.3" fill="none" stroke="#262626" stroke-width="4.7"/>
<path d="M285.9,3311 v-19 M285.9,1790.7 v19 M539.9,3311 v-19 M539.9,1790.7 v19 M793.9,3311 v-19 M793.9,1790.7 v19 M1048,3311 v-19 M1048,1790.7 v19 M1302,3311 v-19 M1302,1790.7 v19 M1556,3311 v-19 M1556,1790.7 v19 M133.5,1883.6 h17.3 M1708.4,1883.6 h-17.3 M133.5,2038.5 h17.3 M1708.4,2038.5 h-17.3 M133.5,2193.4 h17.3 M1708.4,2193.4 h-17.3 M133.5,2348.3 h17.3 M1708.4,2348.3 h-17.3 M133.5,2503.2 h17.3 M1708.4,2503.2 h-17.3 M133.5,2658.1 h17.3 M1708.4,2658.1 h-17.3 M133.5,2813 h17.3 M1708.4,2813 h-17.3 M133.5,2967.9 h17.3 M1708.4,2967.9 h-17.3 M133.5,3122.8 h17.3 M1708.4,3122.8 h-17.3 M133.5,3277.7 h17.3 M1708.4,3277.7 h-17.3" fill="none" stroke="#262626" stroke-width="4.7"/>
<path d="M133.5,3279 213.5,3278.2 286.5,3275.9 302.5,3274.4 316.5,3272.2 322.5,3270 330.5,3265.5 339.5,3258.9 350.5,3246.9 372.5,3214.2 380.5,3204.5 388.5,3197.7 398.5,3190.9 403.5,3188.2 414.5,3183.5 418.5,3181.1 421.5,3178.6 424.5,3174.7 432.5,3160 437.5,3147.8 445.5,3123.4 453.5,3094.5 460.5,3075.7 463.5,3069.7 466.5,3065.6 469.5,3062.4 472.5,3061 474.5,3061.5 476.5,3062.9 483.5,3071.5 486.5,3077.9 493.5,3096.7 496.5,3102.9 524.5,3149.1 538.5,3177.2 548.5,3195.5 553.5,3203.1 557.5,3207.8 566.5,3216.1 578.5,3224.9 623.5,3251.7 638.5,3259.5 646.5,3262.9 656.5,3265.6 670.5,3268.4 691.5,3271.5 724.5,3275 742.5,3276.3 763.5,3276.7 866.5,3277.3 916.5,3275.4 948.5,3273.2 983.5,3268.7 996.5,3266 1010.5,3262.4 1027.5,3255.8 1043.5,3248.3 1065.5,3237 1085.5,3228.5 1096.5,3225.8 1107.5,3224.4 1115.5,3224 1123.5,3225.6 1136.5,3230.6 1155.5,3240.5 1163.5,3243.9 1190.5,3252.6 1210.5,3257.6 1265.5,3270.1 1287.5,3273.9 1304.5,3276.1 1333.5,3277.8 1358.5,3278.5 1708.4,3279" fill="none" stroke="#edb120" stroke-width="9.3" stroke-dasharray="17 7.1"/>
<path d="M133.5,3279 279.5,3278.4 350.5,3277.5 364.5,3276.8 390.5,3273.9 409.5,3270.4 427.5,3263.9 434.5,3260.3 440.5,3256.2 448.5,3248.8 452.5,3243.4 457.5,3235 463.5,3221.3 471.5,3197.4 477.5,3175 482.5,3151.7 488.5,3119.4 497.5,3065 505.5,3022.8 509.5,3008.4 513.5,2997.6 517.5,2991.6 519.5,2990.1 520.5,2990.1 522.5,2991.4 524.5,2994.2 528.5,3002.7 542.5,3069.2 554.5,3118.3 561.5,3138.8 579.5,3183.8 583.5,3192.3 588.5,3200.5 603.5,3219.3 623.5,3240.9 627.5,3244 630.5,3245.1 640.5,3246.9 649.5,3247.5 671.5,3245.1 678.5,3245.3 684.5,3246.8 699.5,3252.4 739.5,3262.8 775.5,3269.5 800.5,3272.5 841.5,3274.8 903.5,3275.8 970.5,3275.9 1029.5,3274.8 1040.5,3273.9 1053.5,3271.9 1071.5,3268.3 1081.5,3265.7 1091.5,3261.7 1101.5,3256.6 1106.5,3252.8 1119.5,3240.9 1123.5,3238.2 1128.5,3236.1 1137.5,3233 1148.5,3230.3 1176.5,3225.6 1207.5,3215 1213.5,3214 1217.5,3214.6 1221.5,3215.9 1232.5,3221.6 1237.5,3226.2 1248.5,3238.5 1260.5,3250 1267.5,3255.8 1276.5,3261.4 1285.5,3265.9 1293.5,3268.5 1306.5,3271.8 1319.5,3273.9 1342.5,3276.6 1359.5,3277.5 1516.5,3278.7 1708.4,3279" fill="none" stroke="#7e2f8e" stroke-width="9.3" stroke-dasharray="17 7.1"/>
<path d="M133.5,3279 219.5,3278.5 298.5,3276.8 352.5,3274.9 362.5,3273.8 372.5,3272.1 387.5,3268.3 395.5,3265.2 404.5,3259.5 413.5,3251.5 419.5,3243.5 427.5,3230.7 448.5,3187.3 453.5,3180.3 456.5,3177.7 458.5,3177.5 462.5,3178.2 467.5,3180 469.5,3181.3 479.5,3194.5 486.5,3201.7 489.5,3204.1 491.5,3204.9 494.5,3204.8 498.5,3203.7 502.5,3201.6 506.5,3198.5 509.5,3193.3 513.5,3182.7 518.5,3166.4 523.5,3142.3 534.5,3077.7 540.5,3046.5 542.5,3040 545.5,3033.7 548.5,3029.6 550.5,3029.1 553.5,3031.3 556.5,3035.8 558.5,3039.6 560.5,3045.9 565.5,3067.3 571.5,3100.1 575.5,3118.3 581.5,3141.6 587.5,3160.8 592.5,3174.3 597.5,3185.1 603.5,3196 609.5,3204.4 617.5,3212.3 629.5,3221.1 642.5,3228.7 657.5,3235.9 672.5,3241.6 687.5,3246.5 721.5,3255.9 742.5,3261 765.5,3265.3 788.5,3268.7 821.5,3272.2 842.5,3273.8 951.5,3275 1009.5,3273.5 1039.5,3270.4 1065.5,3266.2 1079.5,3262.7 1098.5,3255.5 1119.5,3248.6 1127.5,3247.2 1146.5,3245.4 1155.5,3244 1176.5,3238.6 1197.5,3231.5 1208.5,3229.5 1215.5,3229 1221.5,3229.6 1230.5,3231.6 1241.5,3235.3 1254.5,3241.2 1272.5,3251.2 1286.5,3258.2 1301.5,3264.5 1321.5,3270.3 1339.5,3273.7 1351.5,3275.5 1394.5,3276.7 1497.5,3278.1 1708.4,3279" fill="none" stroke="#d95319" stroke-width="9.3" stroke-dasharray="17 7.1"/>
<polyline points="133.5,3126.5 138.6,3126.5 143.7,3126.5 148.7,3126.4 153.8,3126.3 158.9,3126.3 164,3126.2 169.1,3126 174.1,3125.9 179.2,3125.8 184.3,3125.6 189.4,3125.4 194.5,3125.2 199.5,3125 204.6,3124.8 209.7,3124.6 214.8,3124.4 219.9,3124.1 224.9,3123.9 230,3123.6 235.1,3123.3 240.2,3123.1 245.3,3122.8 250.3,3122.5 255.4,3122.2 260.5,3121.8 265.6,3121.3 270.7,3120.8 275.7,3120.3 280.8,3119.7 285.9,3119 291,3118.2 296.1,3117.5 301.2,3116.6 306.2,3115.7 311.3,3114.7 316.4,3113.5 321.5,3112 326.6,3110.2 331.6,3108.3 336.7,3106.2 341.8,3103.7 346.9,3100.7 352,3097.3 357,3093.9 362.1,3090.9 367.2,3088.8 372.3,3086.8 377.4,3083.4 382.4,3079.1 387.5,3074.2 392.6,3069.1 397.7,3063.5 402.8,3056.9 407.8,3048.6 412.9,3037.8 418,3023.6 423.1,3003 428.2,2976.1 433.2,2938.7 438.3,2899.8 443.4,2861.6 448.5,2827.7 453.6,2805.9 458.6,2793.2 463.7,2785.7 468.8,2781 473.9,2774.6 479,2762 484,2745 489.1,2722.8 494.2,2695.9 499.3,2665.7 504.4,2637.3 509.4,2610.6 514.5,2585.5 519.6,2574.4 524.7,2587.7 529.8,2606.3 534.8,2629.9 539.9,2655.3 545,2683.7 550.1,2713.4 555.2,2737.5 560.2,2761.3 565.3,2788.8 570.4,2819.5 575.5,2848.1 580.6,2863.4 585.6,2872.5 590.7,2883.2 595.8,2887.8 600.9,2892.8 606,2912.6 611.1,2935.4 616.1,2954 621.2,2966.7 626.3,2976.3 631.4,2986.2 636.5,2995.8 641.5,3003.2 646.6,3008.1 651.7,3011.7 656.8,3014.8 661.9,3017.9 666.9,3021 672,3024.5 677.1,3028.2 682.2,3032.3 687.3,3036.5 692.3,3040.7 697.4,3044.8 702.5,3048.8 707.6,3052.6 712.7,3056.3 717.7,3059.8 722.8,3063.1 727.9,3066.1 733,3068.8 738.1,3071.2 743.1,3073.4 748.2,3075.5 753.3,3077.4 758.4,3079.2 763.5,3080.9 768.5,3082.6 773.6,3084.2 778.7,3085.8 783.8,3087.2 788.9,3088.6 793.9,3089.8 799,3091 804.1,3092 809.2,3092.9 814.3,3093.7 819.3,3094.5 824.4,3095.2 829.5,3095.9 834.6,3096.6 839.7,3097.2 844.7,3097.8 849.8,3098.4 854.9,3099.1 860,3099.7 865.1,3100.4 870.1,3101 875.2,3101.7 880.3,3102.3 885.4,3102.9 890.5,3103.4 895.5,3103.9 900.6,3104.4 905.7,3104.9 910.8,3105.5 915.9,3106 921,3106.6 926,3107.2 931.1,3107.9 936.2,3108.6 941.3,3109.2 946.4,3109.9 951.4,3110.5 956.5,3111.1 961.6,3111.7 966.7,3112.1 971.8,3112.5 976.8,3112.7 981.9,3112.9 987,3112.9 992.1,3112.9 997.2,3112.9 1002.2,3112.6 1007.3,3112 1012.4,3110.9 1017.5,3109.5 1022.6,3107.6 1027.6,3105.6 1032.7,3103.4 1037.8,3100.8 1042.9,3097.4 1048,3093.4 1053,3088.5 1058.1,3083.2 1063.2,3077.4 1068.3,3071.4 1073.4,3065.2 1078.4,3058.8 1083.5,3052.4 1088.6,3045.4 1093.7,3037.1 1098.8,3030.1 1103.8,3025.9 1108.9,3022.4 1114,3019.4 1119.1,3017 1124.2,3015.2 1129.2,3014.3 1134.3,3014.5 1139.4,3015.5 1144.5,3016.9 1149.6,3018.4 1154.6,3020 1159.7,3021.6 1164.8,3022.8 1169.9,3023 1175,3022.3 1180,3021 1185.1,3019.3 1190.2,3017.3 1195.3,3015.3 1200.4,3013.6 1205.4,3012.3 1210.5,3012 1215.6,3012.8 1220.7,3014.6 1225.8,3017.5 1230.8,3021.5 1235.9,3026.6 1241,3032.2 1246.1,3037.6 1251.2,3041 1256.3,3044.6 1261.3,3050.7 1266.4,3057.4 1271.5,3063.7 1276.6,3069.5 1281.7,3074.8 1286.7,3079.6 1291.8,3084 1296.9,3087.9 1302,3091.5 1307.1,3094.6 1312.1,3097.4 1317.2,3099.8 1322.3,3102 1327.4,3104.1 1332.5,3106 1337.5,3107.9 1342.6,3109.6 1347.7,3111.2 1352.8,3112.4 1357.9,3113.5 1362.9,3114.5 1368,3115.3 1373.1,3116.2 1378.2,3117 1383.3,3117.7 1388.3,3118.4 1393.4,3119 1398.5,3119.7 1403.6,3120.3 1408.7,3120.9 1413.7,3121.4 1418.8,3122 1423.9,3122.5 1429,3123 1434.1,3123.4 1439.1,3123.8 1444.2,3124.2 1449.3,3124.5 1454.4,3124.8 1459.5,3125 1464.5,3125.2 1469.6,3125.3 1474.7,3125.5 1479.8,3125.7 1484.9,3125.9 1489.9,3126.1 1495,3126.2 1500.1,3126.4 1505.2,3126.5 1510.3,3126.7 1515.3,3126.8 1520.4,3127 1525.5,3127.1 1530.6,3127.2 1535.7,3127.3 1540.7,3127.4 1545.8,3127.4 1550.9,3127.5 1556,3127.5 1561.1,3127.5 1566.2,3127.5 1571.2,3127.5 1576.3,3127.5 1581.4,3127.5 1586.5,3127.5 1591.6,3127.5 1596.6,3127.5 1601.7,3127.5 1606.8,3127.5 1611.9,3127.5 1617,3127.5 1622,3127.5 1627.1,3127.5 1632.2,3127.5 1637.3,3127.5 1642.4,3127.5 1647.4,3127.5 1652.5,3127.5 1657.6,3127.5 1662.7,3127.5 1667.8,3127.5 1672.8,3127.5 1677.9,3127.5 1683,3127.5 1688.1,3127.5 1693.2,3127.5 1698.2,3127.5 1703.3,3127.5" fill="none" stroke="none" style="marker:url(#mb0)"/>
<path d="M132.3,3126.5 188.3,3125.5 255.3,3122.2 285.3,3119.1 314.3,3114 325.3,3110.7 341.3,3104.5 366.3,3091.6 378.3,3087.4 382.3,3085.5 388.3,3081 397.3,3072.4 404.3,3065.1 409.3,3058.9 416.3,3047.8 422.3,3034.3 427.3,3019 432.3,2997.1 437.3,2968.5 451.3,2862.6 456.3,2830.6 459.3,2815.6 464.3,2800.8 469.3,2791 473.3,2786.1 482.3,2778.4 486.3,2772.8 490.3,2763.7 496.3,2745.7 504.3,2711.8 518.3,2632.1 527.3,2586.6 529.3,2578.3 531.3,2574.2 532.3,2574.3 533.3,2575.6 535.3,2581 543.3,2615.2 559.3,2709.2 569.3,2756.5 576.3,2794.4 596.3,2920.6 605.3,2964 609.3,2978.6 614.3,2993.1 620.3,3007.1 626.3,3017.9 633.3,3027.4 640.3,3034.5 650.3,3041.4 666.3,3048.6 673.3,3052.5 704.3,3075.1 716.3,3082.7 726.3,3088.1 735.3,3091.8 745.3,3095.1 782.3,3104.8 802.3,3108.9 823.3,3111.5 879.3,3115.7 904.3,3116.5 957.3,3116.2 972.3,3114.9 989.3,3112.1 1001.3,3109.4 1011.3,3105.9 1022.3,3100.3 1034.3,3092.6 1044.3,3084.7 1073.3,3057.9 1092.3,3041.4 1111.3,3025.8 1123.3,3017.9 1132.3,3014 1141.3,3012 1149.3,3011.5 1164.3,3012.6 1171.3,3011.5 1180.3,3008 1200.3,2997.2 1205.3,2995.5 1210.3,2995 1214.3,2995.7 1219.3,2997.9 1223.3,3000.8 1228.3,3005.7 1236.3,3016.2 1254.3,3044.5 1263.3,3057.3 1275.3,3071.9 1287.3,3083.5 1299.3,3092.8 1312.3,3100.5 1330.3,3108.2 1349.3,3114.6 1368.3,3118.3 1390.3,3121 1425.3,3123.4 1468.3,3125.3 1547.3,3127.4 1708.9,3127.5" fill="none" stroke="#b9f021" stroke-width="14.2" stroke-linejoin="round"/>
<text x="1692.6" y="3102.5" font-family='"Liberation Serif", serif' font-size="75" fill="#9ed959" text-anchor="end">x=0.00</text>
<polyline points="133.5,2980 138.6,2980 143.7,2980 148.7,2979.9 153.8,2979.9 158.9,2979.8 164,2979.7 169.1,2979.6 174.1,2979.4 179.2,2979.3 184.3,2979.1 189.4,2978.9 194.5,2978.8 199.5,2978.6 204.6,2978.3 209.7,2978.1 214.8,2977.9 219.9,2977.6 224.9,2977.4 230,2977.1 235.1,2976.8 240.2,2976.6 245.3,2976.3 250.3,2976 255.4,2975.6 260.5,2975.2 265.6,2974.7 270.7,2974.1 275.7,2973.5 280.8,2972.8 285.9,2972 291,2971.2 296.1,2970.3 301.2,2969.3 306.2,2968.3 311.3,2967.2 316.4,2965.9 321.5,2964.2 326.6,2962.4 331.6,2960.4 336.7,2958.2 341.8,2955.8 346.9,2953.3 352,2950.6 357,2947.6 362.1,2944.3 367.2,2940.7 372.3,2936.2 377.4,2929 382.4,2920.1 387.5,2912.3 392.6,2906.6 397.7,2898.4 402.8,2886.2 407.8,2874.3 412.9,2860.3 418,2841.2 423.1,2818.3 428.2,2794.7 433.2,2770.6 438.3,2744.6 443.4,2715.5 448.5,2684 453.6,2649.6 458.6,2619.3 463.7,2594 468.8,2580 473.9,2569.5 479,2558.9 484,2546.9 489.1,2528.7 494.2,2503.9 499.3,2478.1 504.4,2449.8 509.4,2424.6 514.5,2402.7 519.6,2404.4 524.7,2419.9 529.8,2436 534.8,2453.9 539.9,2473.5 545,2499.3 550.1,2530.2 555.2,2560.8 560.2,2591.3 565.3,2622.1 570.4,2652.6 575.5,2679.4 580.6,2699.8 585.6,2716.3 590.7,2730.6 595.8,2734.9 600.9,2736.5 606,2750.4 611.1,2772.5 616.1,2789.6 621.2,2802.4 626.3,2812.3 631.4,2822.8 636.5,2833.2 641.5,2841.3 646.6,2846.8 651.7,2850.9 656.8,2854.3 661.9,2857.5 666.9,2860.7 672,2863.8 677.1,2867.2 682.2,2870.7 687.3,2874.4 692.3,2878.3 697.4,2882.2 702.5,2886.2 707.6,2890.2 712.7,2894.3 717.7,2898.3 722.8,2902.2 727.9,2906 733,2909.7 738.1,2913.1 743.1,2916.3 748.2,2919.3 753.3,2922.1 758.4,2924.7 763.5,2927.1 768.5,2929.2 773.6,2931.2 778.7,2933 783.8,2934.6 788.9,2936.1 793.9,2937.4 799,2938.7 804.1,2939.9 809.2,2941.1 814.3,2942.2 819.3,2943.3 824.4,2944.3 829.5,2945.3 834.6,2946.2 839.7,2947.1 844.7,2948 849.8,2948.8 854.9,2949.6 860,2950.4 865.1,2951.1 870.1,2951.8 875.2,2952.5 880.3,2953.2 885.4,2953.8 890.5,2954.4 895.5,2954.9 900.6,2955.4 905.7,2955.9 910.8,2956.5 915.9,2957 921,2957.6 926,2958.2 931.1,2958.9 936.2,2959.6 941.3,2960.2 946.4,2960.9 951.4,2961.5 956.5,2962.1 961.6,2962.7 966.7,2963.1 971.8,2963.4 976.8,2963.7 981.9,2963.8 987,2963.9 992.1,2963.9 997.2,2963.9 1002.2,2963.7 1007.3,2963.2 1012.4,2962.3 1017.5,2961.1 1022.6,2959.5 1027.6,2957.8 1032.7,2955.8 1037.8,2953.3 1042.9,2950.1 1048,2946 1053,2941.2 1058.1,2935.7 1063.2,2929.7 1068.3,2923.3 1073.4,2916.6 1078.4,2909.6 1083.5,2902.5 1088.6,2894.7 1093.7,2885.4 1098.8,2877.4 1103.8,2872.3 1108.9,2868 1114,2864.6 1119.1,2862 1124.2,2860.2 1129.2,2859.3 1134.3,2859.5 1139.4,2860.6 1144.5,2862.2 1149.6,2863.9 1154.6,2865.5 1159.7,2867.1 1164.8,2868.3 1169.9,2868.5 1175,2867.7 1180,2865.9 1185.1,2863.4 1190.2,2860.3 1195.3,2857.3 1200.4,2854.9 1205.4,2853.5 1210.5,2853.4 1215.6,2854.6 1220.7,2856.9 1225.8,2860.2 1230.8,2864.6 1235.9,2869.9 1241,2876 1246.1,2882 1251.2,2886.1 1256.3,2890.3 1261.3,2896.7 1266.4,2903.7 1271.5,2910.2 1276.6,2916.2 1281.7,2921.7 1286.7,2926.7 1291.8,2931.3 1296.9,2935.5 1302,2939.3 1307.1,2942.8 1312.1,2945.9 1317.2,2948.7 1322.3,2951.3 1327.4,2953.6 1332.5,2955.8 1337.5,2957.8 1342.6,2959.6 1347.7,2961.2 1352.8,2962.6 1357.9,2963.8 1362.9,2965 1368,2966.1 1373.1,2967.1 1378.2,2968.1 1383.3,2969 1388.3,2969.8 1393.4,2970.6 1398.5,2971.3 1403.6,2972.1 1408.7,2972.7 1413.7,2973.4 1418.8,2974 1423.9,2974.6 1429,2975.2 1434.1,2975.7 1439.1,2976.2 1444.2,2976.6 1449.3,2976.9 1454.4,2977.2 1459.5,2977.5 1464.5,2977.7 1469.6,2977.9 1474.7,2978.1 1479.8,2978.2 1484.9,2978.4 1489.9,2978.6 1495,2978.8 1500.1,2978.9 1505.2,2979.1 1510.3,2979.2 1515.3,2979.4 1520.4,2979.5 1525.5,2979.6 1530.6,2979.7 1535.7,2979.8 1540.7,2979.9 1545.8,2979.9 1550.9,2980 1556,2980 1561.1,2980 1566.2,2980 1571.2,2980 1576.3,2980 1581.4,2980 1586.5,2980 1591.6,2980 1596.6,2980 1601.7,2980 1606.8,2980 1611.9,2980 1617,2980 1622,2980 1627.1,2980 1632.2,2980 1637.3,2980 1642.4,2980 1647.4,2980 1652.5,2980 1657.6,2980 1662.7,2980 1667.8,2980 1672.8,2980 1677.9,2980 1683,2980 1688.1,2980 1693.2,2980 1698.2,2980 1703.3,2980" fill="none" stroke="none" style="marker:url(#mb1)"/>
<path d="M132.3,2980 189.3,2978.9 255.3,2975.6 285.3,2972.1 315.3,2966.2 328.3,2961.7 353.3,2951.4 366.3,2945.1 376.3,2939 382.3,2933.4 394.3,2914 402.3,2904.5 406.3,2897 417.3,2870.6 421.3,2859 424.3,2848.2 437.3,2789.4 445.3,2750 463.3,2643.9 471.3,2603.5 474.3,2592.1 476.3,2586.7 493.3,2554.3 499.3,2538.9 506.3,2508.3 525.3,2410.6 527.3,2403.3 529.3,2400.1 530.3,2400.6 532.3,2406.1 541.3,2449.5 575.3,2652 587.3,2716 603.3,2791.9 610.3,2817 617.3,2836.3 623.3,2849.4 630.3,2861.3 637.3,2870 644.3,2876.5 654.3,2883.1 672.3,2891.6 681.3,2896.6 725.3,2926.9 737.3,2934.1 749.3,2940.6 759.3,2945 769.3,2948.5 783.3,2952.5 798.3,2955.9 834.3,2962.1 872.3,2966.1 898.3,2967.4 954.3,2967.3 974.3,2965.6 997.3,2961.4 1008.3,2958.3 1018.3,2954.2 1030.3,2947.6 1040.3,2940.7 1049.3,2932.8 1064.3,2918.3 1107.3,2874.8 1114.3,2868.8 1121.3,2864 1130.3,2859.7 1139.3,2857.5 1148.3,2856.9 1164.3,2858.1 1172.3,2856.7 1181.3,2852.2 1199.3,2839 1204.3,2836.9 1209.3,2836.3 1213.3,2837.1 1218.3,2839.5 1223.3,2843.4 1228.3,2848.6 1237.3,2861.2 1254.3,2889.9 1262.3,2902.1 1274.3,2917.4 1286.3,2929.7 1300.3,2941.2 1314.3,2950.1 1331.3,2958.3 1348.3,2964.4 1368.3,2969.1 1388.3,2972.2 1420.3,2975.2 1455.3,2977.3 1544.3,2979.9 1708.9,2980" fill="none" stroke="#9ed959" stroke-width="14.2" stroke-linejoin="round"/>
<text x="1692.6" y="2950" font-family='"Liberation Serif", serif' font-size="75" fill="#9ed959" text-anchor="end">x=0.33</text>
<polyline points="133.5,2831 138.6,2831 143.7,2830.9 148.7,2830.9 153.8,2830.8 158.9,2830.7 164,2830.5 169.1,2830.4 174.1,2830.2 179.2,2830 184.3,2829.8 189.4,2829.6 194.5,2829.4 199.5,2829.1 204.6,2828.8 209.7,2828.5 214.8,2828.3 219.9,2827.9 224.9,2827.6 230,2827.3 235.1,2827 240.2,2826.7 245.3,2826.3 250.3,2826 255.4,2825.6 260.5,2825.2 265.6,2824.7 270.7,2824.2 275.7,2823.6 280.8,2823 285.9,2822.3 291,2821.6 296.1,2820.9 301.2,2820.1 306.2,2819.3 311.3,2818.5 316.4,2817.6 321.5,2816.7 326.6,2815.7 331.6,2814.6 336.7,2813.4 341.8,2811.9 346.9,2810.2 352,2808.3 357,2806.2 362.1,2804.1 367.2,2801.8 372.3,2799.1 377.4,2796.1 382.4,2792.8 387.5,2789 392.6,2784.7 397.7,2779.5 402.8,2773.3 407.8,2765.4 412.9,2755.1 418,2741.5 423.1,2721.2 428.2,2698.1 433.2,2672.4 438.3,2646.3 443.4,2619.6 448.5,2597.3 453.6,2579.1 458.6,2564.8 463.7,2553.3 468.8,2539.6 473.9,2522 479,2498.5 484,2466.9 489.1,2436.1 494.2,2407 499.3,2383.4 504.4,2362.3 509.4,2339.8 514.5,2321.8 519.6,2312.2 524.7,2315.4 529.8,2326.5 534.8,2346.4 539.9,2373 545,2398.9 550.1,2425.4 555.2,2446.9 560.2,2470.7 565.3,2497.2 570.4,2525.1 575.5,2551 580.6,2566.2 585.6,2576.1 590.7,2586.3 595.8,2590.1 600.9,2593.6 606,2610.1 611.1,2631.6 616.1,2650.2 621.2,2664.6 626.3,2676.4 631.4,2688.8 636.5,2700.7 641.5,2709.6 646.6,2715.4 651.7,2719.4 656.8,2722.4 661.9,2725 666.9,2727.3 672,2729.7 677.1,2732.2 682.2,2735.1 687.3,2738.2 692.3,2741.5 697.4,2744.8 702.5,2748 707.6,2751.3 712.7,2754.4 717.7,2757.5 722.8,2760.5 727.9,2763.4 733,2766.2 738.1,2768.9 743.1,2771.5 748.2,2773.9 753.3,2776.3 758.4,2778.5 763.5,2780.6 768.5,2782.6 773.6,2784.5 778.7,2786.2 783.8,2787.8 788.9,2789.3 793.9,2790.8 799,2792.2 804.1,2793.6 809.2,2795 814.3,2796.3 819.3,2797.7 824.4,2799 829.5,2800.3 834.6,2801.6 839.7,2802.7 844.7,2803.7 849.8,2804.6 854.9,2805.4 860,2806.1 865.1,2806.8 870.1,2807.4 875.2,2808 880.3,2808.5 885.4,2809 890.5,2809.5 895.5,2810 900.6,2810.4 905.7,2810.9 910.8,2811.4 915.9,2811.9 921,2812.4 926,2812.9 931.1,2813.4 936.2,2814 941.3,2814.5 946.4,2815 951.4,2815.5 956.5,2816 961.6,2816.5 966.7,2816.9 971.8,2817.2 976.8,2817.4 981.9,2817.6 987,2817.7 992.1,2817.8 997.2,2817.9 1002.2,2817.7 1007.3,2817.4 1012.4,2816.7 1017.5,2815.7 1022.6,2814.5 1027.6,2813.1 1032.7,2811.7 1037.8,2810 1042.9,2808 1048,2805.5 1053,2802.4 1058.1,2798.6 1063.2,2794.1 1068.3,2789 1073.4,2783.4 1078.4,2777.2 1083.5,2770.5 1088.6,2762.9 1093.7,2753.7 1098.8,2745.9 1103.8,2740.9 1108.9,2736.9 1114,2733.9 1119.1,2731.9 1124.2,2730.8 1129.2,2730.4 1134.3,2731.2 1139.4,2732.7 1144.5,2734.5 1149.6,2736.1 1154.6,2737.5 1159.7,2738.7 1164.8,2739.5 1169.9,2739.6 1175,2738.7 1180,2736.8 1185.1,2734 1190.2,2730.6 1195.3,2727.3 1200.4,2724.5 1205.4,2722.6 1210.5,2722 1215.6,2722.3 1220.7,2723.3 1225.8,2725.1 1230.8,2727.6 1235.9,2730.9 1241,2734.9 1246.1,2738.9 1251.2,2741.3 1256.3,2744.1 1261.3,2749.7 1266.4,2756.1 1271.5,2762.3 1276.6,2768.2 1281.7,2773.7 1286.7,2778.9 1291.8,2783.7 1296.9,2788.2 1302,2792.3 1307.1,2795.9 1312.1,2799.1 1317.2,2801.9 1322.3,2804.4 1327.4,2806.8 1332.5,2808.9 1337.5,2810.9 1342.6,2812.8 1347.7,2814.6 1352.8,2816.1 1357.9,2817.3 1362.9,2818.3 1368,2819.2 1373.1,2819.9 1378.2,2820.6 1383.3,2821.3 1388.3,2821.9 1393.4,2822.6 1398.5,2823.2 1403.6,2823.8 1408.7,2824.3 1413.7,2824.9 1418.8,2825.4 1423.9,2825.9 1429,2826.4 1434.1,2826.9 1439.1,2827.3 1444.2,2827.6 1449.3,2828 1454.4,2828.2 1459.5,2828.5 1464.5,2828.7 1469.6,2828.9 1474.7,2829 1479.8,2829.2 1484.9,2829.4 1489.9,2829.5 1495,2829.7 1500.1,2829.8 1505.2,2829.9 1510.3,2830 1515.3,2830.1 1520.4,2830.2 1525.5,2830.2 1530.6,2830.3 1535.7,2830.4 1540.7,2830.5 1545.8,2830.5 1550.9,2830.6 1556,2830.6 1561.1,2830.7 1566.2,2830.8 1571.2,2830.8 1576.3,2830.9 1581.4,2830.9 1586.5,2830.9 1591.6,2830.9 1596.6,2831 1601.7,2831 1606.8,2831 1611.9,2831 1617,2831 1622,2831 1627.1,2831 1632.2,2831 1637.3,2831 1642.4,2831 1647.4,2831 1652.5,2831 1657.6,2831 1662.7,2831 1667.8,2831 1672.8,2831 1677.9,2831 1683,2831 1688.1,2831 1693.2,2831 1698.2,2831 1703.3,2831" fill="none" stroke="none" style="marker:url(#mb2)"/>
<path d="M132.3,2831 186.3,2829.7 256.3,2825.5 291.3,2821.6 328.3,2815.3 341.3,2812.3 355.3,2808.1 371.3,2802.5 379.3,2798.9 388.3,2793.6 396.3,2787.6 403.3,2781 409.3,2773.9 414.3,2766.4 418.3,2758.7 422.3,2749.3 425.3,2740.5 434.3,2702.1 450.3,2620.3 455.3,2598.9 463.3,2573 476.3,2544.1 481.3,2529.6 485.3,2515.6 489.3,2497.7 503.3,2417.2 509.3,2387.7 523.3,2328 528.3,2315.5 530.3,2312.4 531.3,2311.8 533.3,2312.5 536.3,2317.4 540.3,2327.6 542.3,2334.9 558.3,2421.6 566.3,2456.4 571.3,2481.2 591.3,2591.8 601.3,2642.3 605.3,2659.9 611.3,2682.3 616.3,2698 622.3,2713.6 627.3,2724.2 633.3,2734.1 639.3,2741.3 646.3,2747.1 656.3,2752.3 673.3,2757.4 679.3,2759.7 707.3,2775.6 734.3,2788.6 756.3,2797.5 776.3,2803.7 829.3,2816.5 848.3,2819.7 885.3,2822.2 921.3,2822.3 959.3,2820.9 973.3,2819.4 988.3,2817.2 1004.3,2813.7 1017.3,2809.3 1033.3,2801.7 1054.3,2789.8 1064.3,2783 1074.3,2775.3 1083.3,2767.2 1107.3,2743.6 1114.3,2738.2 1120.3,2734.6 1128.3,2731.5 1136.3,2729.9 1146.3,2729.2 1163.3,2729.4 1172.3,2727.7 1177.3,2725.5 1181.3,2723 1195.3,2711.6 1200.3,2708.1 1206.3,2705.5 1211.3,2705 1216.3,2705.8 1222.3,2708.4 1227.3,2711.8 1233.3,2717.2 1241.3,2726.4 1260.3,2752.3 1272.3,2767.1 1285.3,2781 1298.3,2792.5 1309.3,2800.4 1321.3,2807 1339.3,2814.6 1354.3,2819.5 1371.3,2822.6 1397.3,2825.1 1434.3,2827.4 1482.3,2829.3 1579.3,2830.9 1708.9,2831" fill="none" stroke="#35c89b" stroke-width="14.2" stroke-linejoin="round"/>
<text x="1692.6" y="2802.5" font-family='"Liberation Serif", serif' font-size="75" fill="#35c89b" text-anchor="end">x=0.75</text>
<polyline points="133.5,2682.5 138.6,2682.5 143.7,2682.4 148.7,2682.4 153.8,2682.3 158.9,2682.2 164,2682 169.1,2681.9 174.1,2681.7 179.2,2681.5 184.3,2681.3 189.4,2681.1 194.5,2680.8 199.5,2680.6 204.6,2680.3 209.7,2680 214.8,2679.7 219.9,2679.4 224.9,2679.1 230,2678.8 235.1,2678.5 240.2,2678.1 245.3,2677.8 250.3,2677.5 255.4,2677.1 260.5,2676.7 265.6,2676.3 270.7,2675.8 275.7,2675.2 280.8,2674.7 285.9,2674 291,2673.4 296.1,2672.7 301.2,2671.9 306.2,2671.2 311.3,2670.4 316.4,2669.5 321.5,2668.6 326.6,2667.7 331.6,2666.7 336.7,2665.5 341.8,2664.1 346.9,2662.5 352,2660.7 357,2658.6 362.1,2656.4 367.2,2654 372.3,2650.8 377.4,2647.4 382.4,2643.8 387.5,2639.8 392.6,2635.5 397.7,2630.5 402.8,2624.6 407.8,2617.2 412.9,2607.4 418,2594.7 423.1,2575.9 428.2,2552.5 433.2,2524 438.3,2494.2 443.4,2464.5 448.5,2434.8 453.6,2406 458.6,2384.6 463.7,2375.7 468.8,2369.8 473.9,2362.1 479,2352.3 484,2335.7 489.1,2313.2 494.2,2288.1 499.3,2261.5 504.4,2237.3 509.4,2215.3 514.5,2192.8 519.6,2170.4 524.7,2157 529.8,2160.3 534.8,2168.9 539.9,2181.4 545,2199.2 550.1,2223.1 555.2,2257.5 560.2,2290.8 565.3,2321.7 570.4,2353.5 575.5,2383.8 580.6,2407.2 585.6,2426.6 590.7,2444.3 595.8,2450 600.9,2451.9 606,2468.1 611.1,2488.4 616.1,2504.9 621.2,2517.7 626.3,2527.8 631.4,2538.6 636.5,2549.2 641.5,2557.3 646.6,2562.6 651.7,2566.4 656.8,2569.3 661.9,2571.9 666.9,2574.3 672,2576.8 677.1,2579.5 682.2,2582.4 687.3,2585.7 692.3,2589.2 697.4,2592.8 702.5,2596.4 707.6,2600 712.7,2603.5 717.7,2606.8 722.8,2610 727.9,2613 733,2615.7 738.1,2618.3 743.1,2620.6 748.2,2622.8 753.3,2624.9 758.4,2626.9 763.5,2628.9 768.5,2630.7 773.6,2632.5 778.7,2634.2 783.8,2635.8 788.9,2637.4 793.9,2638.9 799,2640.4 804.1,2641.8 809.2,2643.3 814.3,2644.8 819.3,2646.2 824.4,2647.7 829.5,2649.1 834.6,2650.4 839.7,2651.6 844.7,2652.6 849.8,2653.5 854.9,2654.3 860,2654.9 865.1,2655.6 870.1,2656.1 875.2,2656.6 880.3,2657.1 885.4,2657.6 890.5,2658.1 895.5,2658.5 900.6,2659 905.7,2659.4 910.8,2659.9 915.9,2660.4 921,2660.9 926,2661.4 931.1,2661.9 936.2,2662.5 941.3,2663 946.4,2663.5 951.4,2664.1 956.5,2664.6 961.6,2665 966.7,2665.5 971.8,2665.8 976.8,2666.2 981.9,2666.4 987,2666.6 992.1,2666.7 997.2,2666.8 1002.2,2666.7 1007.3,2666.3 1012.4,2665.6 1017.5,2664.4 1022.6,2663 1027.6,2661.5 1032.7,2659.8 1037.8,2657.9 1042.9,2655.7 1048,2653.1 1053,2649.9 1058.1,2646.1 1063.2,2641.6 1068.3,2636.5 1073.4,2630.8 1078.4,2624.7 1083.5,2618.1 1088.6,2610.5 1093.7,2601.3 1098.8,2593.3 1103.8,2588.3 1108.9,2584.1 1114,2581.1 1119.1,2579.2 1124.2,2578.1 1129.2,2577.9 1134.3,2578.8 1139.4,2580.4 1144.5,2582.3 1149.6,2584.1 1154.6,2585.6 1159.7,2587 1164.8,2588 1169.9,2588.1 1175,2587.2 1180,2585.2 1185.1,2582.3 1190.2,2578.8 1195.3,2575.2 1200.4,2572.3 1205.4,2570.3 1210.5,2569.5 1215.6,2569.8 1220.7,2570.9 1225.8,2572.7 1230.8,2575.3 1235.9,2578.7 1241,2582.9 1246.1,2586.9 1251.2,2589.3 1256.3,2592.1 1261.3,2597.7 1266.4,2604.1 1271.5,2610.3 1276.6,2616.2 1281.7,2621.7 1286.7,2627 1291.8,2631.9 1296.9,2636.5 1302,2640.6 1307.1,2644.4 1312.1,2647.6 1317.2,2650.6 1322.3,2653.2 1327.4,2655.6 1332.5,2657.8 1337.5,2659.9 1342.6,2661.8 1347.7,2663.5 1352.8,2665 1357.9,2666.3 1362.9,2667.4 1368,2668.4 1373.1,2669.3 1378.2,2670.2 1383.3,2671 1388.3,2671.8 1393.4,2672.6 1398.5,2673.4 1403.6,2674.1 1408.7,2674.8 1413.7,2675.5 1418.8,2676.2 1423.9,2676.8 1429,2677.4 1434.1,2678 1439.1,2678.5 1444.2,2678.9 1449.3,2679.4 1454.4,2679.7 1459.5,2680 1464.5,2680.2 1469.6,2680.4 1474.7,2680.6 1479.8,2680.7 1484.9,2680.9 1489.9,2681 1495,2681.2 1500.1,2681.3 1505.2,2681.4 1510.3,2681.5 1515.3,2681.6 1520.4,2681.7 1525.5,2681.7 1530.6,2681.8 1535.7,2681.9 1540.7,2682 1545.8,2682 1550.9,2682.1 1556,2682.1 1561.1,2682.2 1566.2,2682.3 1571.2,2682.3 1576.3,2682.4 1581.4,2682.4 1586.5,2682.4 1591.6,2682.4 1596.6,2682.5 1601.7,2682.5 1606.8,2682.5 1611.9,2682.5 1617,2682.5 1622,2682.5 1627.1,2682.5 1632.2,2682.5 1637.3,2682.5 1642.4,2682.5 1647.4,2682.5 1652.5,2682.5 1657.6,2682.5 1662.7,2682.5 1667.8,2682.5 1672.8,2682.5 1677.9,2682.5 1683,2682.5 1688.1,2682.5 1693.2,2682.5 1698.2,2682.5 1703.3,2682.5" fill="none" stroke="none" style="marker:url(#mb3)"/>
<path d="M132.3,2682.5 186.3,2681.2 257.3,2677 294.3,2672.9 331.3,2666.8 354.3,2660.7 367.3,2656.1 374.3,2652.9 384.3,2646.7 393.3,2640 402.3,2632 409.3,2623.9 415.3,2614.6 421.3,2601.8 425.3,2590.6 429.3,2574.9 436.3,2541.1 457.3,2421.1 460.3,2406.1 464.3,2389.9 466.3,2383.9 469.3,2378.7 478.3,2368.9 485.3,2359 489.3,2351.6 492.3,2343.6 501.3,2307.3 513.3,2246.7 529.3,2175.5 534.3,2158.6 535.3,2156.9 536.3,2156.9 539.3,2160.9 543.3,2170.8 546.3,2181.7 549.3,2196.4 554.3,2224.3 562.3,2278.6 579.3,2383.9 597.3,2480.9 602.3,2503.1 607.3,2522.2 612.3,2538.4 617.3,2551.9 623.3,2565.2 629.3,2575.8 636.3,2585.3 643.3,2591.9 648.3,2595.2 654.3,2598.2 675.3,2605.4 682.3,2608.5 711.3,2626.8 729.3,2636.2 748.3,2643.3 777.3,2652 831.3,2665.7 848.3,2668.7 886.3,2670.8 926.3,2670.7 962.3,2669.2 991.3,2665.5 1005.3,2662.4 1018.3,2657.5 1033.3,2649.8 1056.3,2636 1066.3,2629 1075.3,2621.9 1085.3,2612.8 1107.3,2590.9 1113.3,2586 1119.3,2582.5 1127.3,2579.3 1135.3,2577.6 1145.3,2577.1 1163.3,2577.8 1172.3,2576.2 1177.3,2574 1181.3,2571.5 1195.3,2559.5 1200.3,2555.9 1206.3,2553.1 1211.3,2552.5 1216.3,2553.4 1221.3,2555.4 1226.3,2558.6 1232.3,2564 1241.3,2574.4 1260.3,2600.3 1272.3,2615.1 1285.3,2629 1299.3,2641.6 1310.3,2649.5 1323.3,2656.7 1339.3,2663.6 1354.3,2668.5 1371.3,2671.9 1396.3,2675.1 1433.3,2678.4 1466.3,2680.2 1504.3,2681.4 1570.3,2682.3 1708.9,2682.5" fill="none" stroke="#1ebeae" stroke-width="14.2" stroke-linejoin="round"/>
<text x="1692.6" y="2655" font-family='"Liberation Serif", serif' font-size="75" fill="#1ebeae" text-anchor="end">x=0.87</text>
<polyline points="133.5,2532.5 138.6,2532.5 143.7,2532.5 148.7,2532.4 153.8,2532.4 158.9,2532.4 164,2532.3 169.1,2532.2 174.1,2532.1 179.2,2532.1 184.3,2532 189.4,2531.8 194.5,2531.7 199.5,2531.6 204.6,2531.5 209.7,2531.3 214.8,2531.2 219.9,2531 224.9,2530.9 230,2530.7 235.1,2530.5 240.2,2530.4 245.3,2530.2 250.3,2530 255.4,2529.8 260.5,2529.5 265.6,2529.2 270.7,2528.8 275.7,2528.4 280.8,2528 285.9,2527.5 291,2526.9 296.1,2526.4 301.2,2525.8 306.2,2525.1 311.3,2524.4 316.4,2523.7 321.5,2523 326.6,2522.3 331.6,2521.4 336.7,2520.3 341.8,2519.1 346.9,2517.6 352,2516 357,2514.3 362.1,2512.4 367.2,2510.5 372.3,2508.2 377.4,2505.5 382.4,2502.9 387.5,2499.8 392.6,2496 397.7,2491.1 402.8,2485 407.8,2477.5 412.9,2467.5 418,2454.3 423.1,2438.3 428.2,2417.5 433.2,2390.6 438.3,2356.6 443.4,2332.9 448.5,2318.5 453.6,2309 458.6,2307.1 463.7,2310.6 468.8,2313 473.9,2311.8 479,2307.5 484,2291 489.1,2270.9 494.2,2245.4 499.3,2207.9 504.4,2166.1 509.4,2131.5 514.5,2106.8 519.6,2090.9 524.7,2083.1 529.8,2087.3 534.8,2095.6 539.9,2106.8 545,2118.6 550.1,2133.9 555.2,2155.5 560.2,2190 565.3,2220.2 570.4,2245.3 575.5,2271.5 580.6,2295.7 585.6,2316.6 590.7,2332.4 595.8,2336.5 600.9,2336.8 606,2346.4 611.1,2360.8 616.1,2374.4 621.2,2385 626.3,2393.5 631.4,2402.9 636.5,2412.7 641.5,2420.5 646.6,2425.9 651.7,2429.8 656.8,2433.1 661.9,2436 666.9,2438.7 672,2441.3 677.1,2444 682.2,2446.8 687.3,2449.9 692.3,2453 697.4,2456.2 702.5,2459.4 707.6,2462.6 712.7,2465.7 717.7,2468.8 722.8,2471.7 727.9,2474.4 733,2476.9 738.1,2479.3 743.1,2481.4 748.2,2483.4 753.3,2485.3 758.4,2487.1 763.5,2488.9 768.5,2490.6 773.6,2492.2 778.7,2493.7 783.8,2495.1 788.9,2496.5 793.9,2497.7 799,2498.9 804.1,2500 809.2,2501 814.3,2501.9 819.3,2502.8 824.4,2503.7 829.5,2504.5 834.6,2505.3 839.7,2506 844.7,2506.7 849.8,2507.3 854.9,2508 860,2508.6 865.1,2509.2 870.1,2509.8 875.2,2510.4 880.3,2511 885.4,2511.5 890.5,2512 895.5,2512.5 900.6,2512.9 905.7,2513.3 910.8,2513.8 915.9,2514.3 921,2514.7 926,2515.2 931.1,2515.7 936.2,2516.2 941.3,2516.6 946.4,2517.1 951.4,2517.6 956.5,2518 961.6,2518.4 966.7,2518.8 971.8,2519.2 976.8,2519.5 981.9,2519.8 987,2520 992.1,2520.2 997.2,2520.3 1002.2,2520.4 1007.3,2520.2 1012.4,2519.9 1017.5,2519.3 1022.6,2518.5 1027.6,2517.7 1032.7,2516.9 1037.8,2515.8 1042.9,2514.5 1048,2512.8 1053,2510.5 1058.1,2507.6 1063.2,2504.1 1068.3,2500.1 1073.4,2495.5 1078.4,2490.4 1083.5,2484.8 1088.6,2478.2 1093.7,2470 1098.8,2463.1 1103.8,2458.9 1108.9,2455.6 1114,2453.4 1119.1,2452.1 1124.2,2451.6 1129.2,2451.8 1134.3,2453 1139.4,2454.8 1144.5,2456.8 1149.6,2458.6 1154.6,2460.1 1159.7,2461.5 1164.8,2462.5 1169.9,2462.7 1175,2462 1180,2460.3 1185.1,2457.5 1190.2,2454.1 1195.3,2450.4 1200.4,2447 1205.4,2444.7 1210.5,2443.7 1215.6,2444 1220.7,2445.1 1225.8,2446.7 1230.8,2448.8 1235.9,2451.3 1241,2454.3 1246.1,2457.2 1251.2,2458.3 1256.3,2459.9 1261.3,2464.2 1266.4,2469.6 1271.5,2474.7 1276.6,2479.6 1281.7,2484.2 1286.7,2488.5 1291.8,2492.4 1296.9,2496 1302,2499.3 1307.1,2502.2 1312.1,2504.7 1317.2,2506.8 1322.3,2508.8 1327.4,2510.5 1332.5,2512.2 1337.5,2513.7 1342.6,2515.2 1347.7,2516.6 1352.8,2517.9 1357.9,2519 1362.9,2519.8 1368,2520.6 1373.1,2521.4 1378.2,2522.1 1383.3,2522.7 1388.3,2523.4 1393.4,2524 1398.5,2524.7 1403.6,2525.3 1408.7,2525.8 1413.7,2526.4 1418.8,2526.9 1423.9,2527.4 1429,2527.9 1434.1,2528.4 1439.1,2528.8 1444.2,2529.1 1449.3,2529.5 1454.4,2529.7 1459.5,2530 1464.5,2530.2 1469.6,2530.4 1474.7,2530.5 1479.8,2530.7 1484.9,2530.9 1489.9,2531 1495,2531.2 1500.1,2531.3 1505.2,2531.4 1510.3,2531.5 1515.3,2531.6 1520.4,2531.7 1525.5,2531.7 1530.6,2531.8 1535.7,2531.9 1540.7,2532 1545.8,2532 1550.9,2532.1 1556,2532.1 1561.1,2532.2 1566.2,2532.3 1571.2,2532.3 1576.3,2532.4 1581.4,2532.4 1586.5,2532.4 1591.6,2532.4 1596.6,2532.5 1601.7,2532.5 1606.8,2532.5 1611.9,2532.5 1617,2532.5 1622,2532.5 1627.1,2532.5 1632.2,2532.5 1637.3,2532.5 1642.4,2532.5 1647.4,2532.5 1652.5,2532.5 1657.6,2532.5 1662.7,2532.5 1667.8,2532.5 1672.8,2532.5 1677.9,2532.5 1683,2532.5 1688.1,2532.5 1693.2,2532.5 1698.2,2532.5 1703.3,2532.5" fill="none" stroke="none" style="marker:url(#mb4)"/>
<path d="M132.3,2532.5 191.3,2531.8 258.3,2529.6 290.3,2527 326.3,2522.3 349.3,2517.3 373.3,2509.8 383.3,2505.1 391.3,2500.6 397.3,2496.2 403.3,2490.4 410.3,2481.4 416.3,2471.1 421.3,2459 427.3,2441 431.3,2425.8 436.3,2402.1 442.3,2362.4 445.3,2346.8 449.3,2329.8 452.3,2321.7 457.3,2312.1 461.3,2307.4 463.3,2306.7 465.3,2307.1 475.3,2312.8 478.3,2312.9 481.3,2312.3 486.3,2310.2 488.3,2308.3 492.3,2298.2 500.3,2269.3 506.3,2239.1 516.3,2159.2 522.3,2121.5 525.3,2107.7 528.3,2096.9 532.3,2086.9 534.3,2083.6 535.3,2083 536.3,2083.4 537.3,2084.6 542.3,2096.4 556.3,2145.8 558.3,2156.3 566.3,2209.7 585.3,2309.4 590.3,2331.7 606.3,2387.9 612.3,2404.8 618.3,2418.9 625.3,2432.3 632.3,2443.1 639.3,2451.3 646.3,2457.1 658.3,2463.9 683.3,2473.6 714.3,2490.6 731.3,2498.3 754.3,2505.6 791.3,2514.7 814.3,2518.7 843.3,2521.9 882.3,2524.5 910.3,2524.9 955.3,2523.1 985.3,2519.9 1003.3,2516.7 1017.3,2512.8 1036.3,2505.7 1060.3,2495.3 1070.3,2490 1078.3,2485 1087.3,2478.4 1107.3,2462.1 1113.3,2458.2 1118.3,2455.8 1126.3,2453.3 1135.3,2451.9 1146.3,2451.6 1163.3,2452.4 1172.3,2450.9 1177.3,2448.9 1182.3,2445.8 1197.3,2433 1202.3,2429.4 1207.3,2427.2 1211.3,2426.7 1216.3,2427.6 1221.3,2429.7 1226.3,2432.6 1232.3,2437.2 1241.3,2445.8 1260.3,2467.1 1272.3,2479.4 1284.3,2490 1297.3,2499.5 1308.3,2505.9 1319.3,2510.7 1337.3,2516.7 1354.3,2521.2 1373.3,2524.2 1401.3,2526.9 1437.3,2529 1484.3,2530.9 1580.3,2532.4 1708.9,2532.5" fill="none" stroke="#2b85f2" stroke-width="14.2" stroke-linejoin="round"/>
<text x="1692.6" y="2504" font-family='"Liberation Serif", serif' font-size="75" fill="#2b85f2" text-anchor="end">x=1.35</text>
<polyline points="133.5,2386 138.6,2386 143.7,2386 148.7,2385.9 153.8,2385.9 158.9,2385.8 164,2385.8 169.1,2385.7 174.1,2385.6 179.2,2385.5 184.3,2385.4 189.4,2385.3 194.5,2385.2 199.5,2385.1 204.6,2384.9 209.7,2384.8 214.8,2384.7 219.9,2384.5 224.9,2384.3 230,2384.2 235.1,2384 240.2,2383.8 245.3,2383.7 250.3,2383.5 255.4,2383.3 260.5,2383 265.6,2382.8 270.7,2382.5 275.7,2382.1 280.8,2381.7 285.9,2381.3 291,2380.9 296.1,2380.5 301.2,2380 306.2,2379.5 311.3,2379 316.4,2378.4 321.5,2377.9 326.6,2377.3 331.6,2376.7 336.7,2376 341.8,2375.3 346.9,2374.4 352,2373.4 357,2372.3 362.1,2371.2 367.2,2369.9 372.3,2368.2 377.4,2366.2 382.4,2364.1 387.5,2361.8 392.6,2359 397.7,2355.4 402.8,2350.4 407.8,2343.9 412.9,2336.3 418,2326.3 423.1,2314 428.2,2301.2 433.2,2287.2 438.3,2272.7 443.4,2257.3 448.5,2244.6 453.6,2236.2 458.6,2233.5 463.7,2237 468.8,2240 473.9,2239.2 479,2236.8 484,2227.9 489.1,2213.9 494.2,2192.9 499.3,2171 504.4,2146.5 509.4,2121.2 514.5,2095.5 519.6,2071.6 524.7,2055.6 529.8,2051.8 534.8,2053.7 539.9,2057.6 545,2067 550.1,2090 555.2,2115.6 560.2,2139.4 565.3,2161.7 570.4,2182.7 575.5,2202.3 580.6,2220.5 585.6,2237.7 590.7,2248.6 595.8,2254.1 600.9,2259.2 606,2267.6 611.1,2276.4 616.1,2283.8 621.2,2289.7 626.3,2294.6 631.4,2299.9 636.5,2305.3 641.5,2310 646.6,2313.7 651.7,2316.6 656.8,2319.1 661.9,2321.2 666.9,2323 672,2324.8 677.1,2326.5 682.2,2328.3 687.3,2330.3 692.3,2332.4 697.4,2334.6 702.5,2336.9 707.6,2339.1 712.7,2341.3 717.7,2343.5 722.8,2345.5 727.9,2347.4 733,2349.2 738.1,2350.9 743.1,2352.4 748.2,2353.9 753.3,2355.2 758.4,2356.4 763.5,2357.6 768.5,2358.6 773.6,2359.5 778.7,2360.4 783.8,2361.2 788.9,2361.9 793.9,2362.6 799,2363.3 804.1,2363.9 809.2,2364.4 814.3,2365 819.3,2365.5 824.4,2366 829.5,2366.4 834.6,2366.9 839.7,2367.3 844.7,2367.8 849.8,2368.2 854.9,2368.6 860,2369 865.1,2369.4 870.1,2369.8 875.2,2370.2 880.3,2370.6 885.4,2370.9 890.5,2371.2 895.5,2371.6 900.6,2371.9 905.7,2372.2 910.8,2372.6 915.9,2373 921,2373.3 926,2373.7 931.1,2374.1 936.2,2374.6 941.3,2375 946.4,2375.3 951.4,2375.7 956.5,2376 961.6,2376.3 966.7,2376.5 971.8,2376.6 976.8,2376.7 981.9,2376.7 987,2376.7 992.1,2376.7 997.2,2376.6 1002.2,2376.5 1007.3,2376.3 1012.4,2375.9 1017.5,2375.3 1022.6,2374.6 1027.6,2373.9 1032.7,2373.1 1037.8,2372.2 1042.9,2371 1048,2369.7 1053,2367.9 1058.1,2365.8 1063.2,2363.2 1068.3,2360.3 1073.4,2357.1 1078.4,2353.7 1083.5,2350 1088.6,2345.8 1093.7,2340.8 1098.8,2336.5 1103.8,2333.9 1108.9,2331.8 1114,2330.2 1119.1,2329.2 1124.2,2328.6 1129.2,2328.4 1134.3,2328.9 1139.4,2329.7 1144.5,2330.6 1149.6,2331.4 1154.6,2332.1 1159.7,2332.8 1164.8,2333.2 1169.9,2333.2 1175,2332.6 1180,2331.5 1185.1,2329.8 1190.2,2327.8 1195.3,2325.7 1200.4,2323.7 1205.4,2322.4 1210.5,2321.7 1215.6,2321.8 1220.7,2322.2 1225.8,2323 1230.8,2324.3 1235.9,2325.9 1241,2327.9 1246.1,2329.9 1251.2,2331 1256.3,2332.4 1261.3,2335.4 1266.4,2338.9 1271.5,2342.4 1276.6,2345.8 1281.7,2349 1286.7,2352 1291.8,2354.8 1296.9,2357.4 1302,2359.8 1307.1,2361.9 1312.1,2363.9 1317.2,2365.6 1322.3,2367.3 1327.4,2368.8 1332.5,2370.1 1337.5,2371.4 1342.6,2372.6 1347.7,2373.7 1352.8,2374.6 1357.9,2375.4 1362.9,2376.1 1368,2376.6 1373.1,2377.1 1378.2,2377.6 1383.3,2378.1 1388.3,2378.5 1393.4,2378.9 1398.5,2379.3 1403.6,2379.7 1408.7,2380.1 1413.7,2380.4 1418.8,2380.8 1423.9,2381.2 1429,2381.5 1434.1,2381.8 1439.1,2382.1 1444.2,2382.4 1449.3,2382.6 1454.4,2382.8 1459.5,2383 1464.5,2383.1 1469.6,2383.2 1474.7,2383.4 1479.8,2383.5 1484.9,2383.6 1489.9,2383.7 1495,2383.8 1500.1,2383.8 1505.2,2383.9 1510.3,2384 1515.3,2384.1 1520.4,2384.1 1525.5,2384.2 1530.6,2384.3 1535.7,2384.3 1540.7,2384.4 1545.8,2384.4 1550.9,2384.5 1556,2384.5 1561.1,2384.6 1566.2,2384.6 1571.2,2384.7 1576.3,2384.7 1581.4,2384.8 1586.5,2384.8 1591.6,2384.9 1596.6,2384.9 1601.7,2384.9 1606.8,2385 1611.9,2385 1617,2385 1622,2385.1 1627.1,2385.1 1632.2,2385.2 1637.3,2385.2 1642.4,2385.2 1647.4,2385.3 1652.5,2385.3 1657.6,2385.3 1662.7,2385.4 1667.8,2385.4 1672.8,2385.4 1677.9,2385.4 1683,2385.4 1688.1,2385.5 1693.2,2385.5 1698.2,2385.5 1703.3,2385.5" fill="none" stroke="none" style="marker:url(#mb5)"/>
<path d="M132.3,2386 188.3,2385.3 256.3,2383.2 288.3,2381.1 325.3,2377.5 350.3,2374 372.3,2369.4 390.3,2362.4 401.3,2355.7 406.3,2350.9 411.3,2344.7 417.3,2335.7 420.3,2330 433.3,2298.1 450.3,2249.5 457.3,2237.9 460.3,2234.6 463.3,2233.3 466.3,2234.2 475.3,2239.8 480.3,2239.7 486.3,2238.1 488.3,2237 490.3,2234.8 496.3,2223.8 500.3,2212.5 508.3,2179.9 531.3,2068.6 535.3,2056.3 537.3,2052.3 538.3,2051.7 539.3,2052.2 541.3,2055.8 546.3,2071.3 553.3,2106.7 565.3,2161.6 574.3,2197.9 584.3,2233.3 590.3,2252 596.3,2267.1 604.3,2284.1 611.3,2296.3 619.3,2307.6 628.3,2317.8 638.3,2326.4 648.3,2332.6 659.3,2337.1 685.3,2343.7 713.3,2354.9 734.3,2361.7 753.3,2366.3 775.3,2370 806.3,2373.5 838.3,2375.8 883.3,2378.1 932.3,2378.9 959.3,2378.7 982.3,2377 1001.3,2374.7 1015.3,2372.2 1031.3,2368.2 1050.3,2362.3 1071.3,2354.1 1105.3,2336.4 1112.3,2333.3 1119.3,2330.9 1127.3,2329.2 1136.3,2328.1 1163.3,2327.7 1172.3,2326.6 1182.3,2323.5 1202.3,2314 1207.3,2312.7 1212.3,2312.4 1217.3,2312.9 1223.3,2314.3 1234.3,2319 1243.3,2324.6 1277.3,2348.3 1289.3,2355.3 1301.3,2361.1 1313.3,2365.9 1326.3,2370.1 1342.3,2374.2 1356.3,2376.9 1372.3,2378.6 1395.3,2380.2 1468.3,2383.2 1564.3,2384.6 1708.9,2385.5" fill="none" stroke="#4338d6" stroke-width="14.2" stroke-linejoin="round"/>
<text x="1692.6" y="2350" font-family='"Liberation Serif", serif' font-size="75" fill="#4338d6" text-anchor="end">x=1.80</text>
<text x="286.7" y="3394" font-family='"Liberation Serif", serif' font-size="75" fill="#231f20" text-anchor="middle">705</text>
<text x="540.7" y="3394" font-family='"Liberation Serif", serif' font-size="75" fill="#231f20" text-anchor="middle">710</text>
<text x="794.7" y="3394" font-family='"Liberation Serif", serif' font-size="75" fill="#231f20" text-anchor="middle">715</text>
<text x="1048.8" y="3394" font-family='"Liberation Serif", serif' font-size="75" fill="#231f20" text-anchor="middle">720</text>
<text x="1302.8" y="3394" font-family='"Liberation Serif", serif' font-size="75" fill="#231f20" text-anchor="middle">725</text>
<text x="1556.8" y="3394" font-family='"Liberation Serif", serif' font-size="75" fill="#231f20" text-anchor="middle">730</text>
<text x="921" y="3474" font-family='"Liberation Serif", serif' font-size="75.5" fill="#231f20" text-anchor="middle">energy (eV)</text>
<text transform="translate(83.2,2549.5) rotate(-90)" font-family='"Liberation Serif", serif' font-size="75" fill="#231f20" text-anchor="middle">intensity (arb. units)</text>
<text x="192" y="1969.7" font-family='"Liberation Sans", sans-serif' font-size="151.5" fill="#231f20" text-anchor="start">(b)</text>
<text y="1993" font-family='"Liberation Serif", serif' font-size="75" fill="#231f20"><tspan x="451.7">Fe</tspan><tspan x="529.5" font-style="italic">L</tspan><tspan x="586" y="2015.7" font-size="58">3</tspan></text>
<text y="2282" font-family='"Liberation Serif", serif' font-size="75" fill="#231f20"><tspan x="1119.7">Fe</tspan><tspan x="1197.5" font-style="italic">L</tspan><tspan x="1255" y="2307.2" font-size="58">2</tspan></text>
<text x="290.5" y="2111.8" font-family='"Liberation Serif", serif' font-size="74" fill="#231f20" text-anchor="start">(II)</text>
<text x="580" y="2112.5" font-family='"Liberation Serif", serif' font-size="74" fill="#231f20" text-anchor="start">(III)</text>
<text x="198.5" y="3069.7" font-family='"Liberation Serif", serif' font-size="74" fill="#231f20" text-anchor="start">(I)</text>
<path d="M378.2,2128.1 L425.6,2183.3" stroke="#231f20" stroke-width="8.6" fill="none"/><path d="M450.7,2212.6 L406.9,2196.7 L441.6,2166.9 Z" fill="#231f20"/>
<path d="M278.6,3052.2 L316.8,3064" stroke="#231f20" stroke-width="8.6" fill="none"/><path d="M353.7,3075.4 L308.1,3085.3 L321.7,3041.5 Z" fill="#231f20"/>
<path d="M265.9,3086.8 L352.7,3157.9" stroke="#231f20" stroke-width="8.6" fill="none"/><path d="M382.5,3182.4 L336.6,3174.4 L365.6,3138.9 Z" fill="#231f20"/>
<rect x="771.7" y="1824.2" width="903.9" height="378.8" fill="#fff" stroke="#262626" stroke-width="4.7"/>
<circle cx="921.5" cy="1880" r="12.8" fill="none" stroke="#abaae8" stroke-width="9.2"/>
<path d="M799,2001H1051" stroke="#4338d6" stroke-width="14" fill="none"/>
<path d="M1231.3,1878.5H1482.5" stroke="#edb120" stroke-width="9.3" stroke-dasharray="17 7.1" fill="none"/>
<path d="M1231.3,2001H1482.5" stroke="#7e2f8e" stroke-width="9.3" stroke-dasharray="17 7.1" fill="none"/>
<path d="M1231.3,2125H1482.5" stroke="#d95319" stroke-width="9.3" stroke-dasharray="17 7.1" fill="none"/>
<text x="1069" y="1905" font-family='"Liberation Serif", serif' font-size="67" fill="#000" text-anchor="start">data</text>
<text x="1069" y="2025" font-family='"Liberation Serif", serif' font-size="67" fill="#000" text-anchor="start">calc.</text>
<text x="1501" y="1907.5" font-family='"Liberation Serif", serif' font-size="67" fill="#000" text-anchor="start">Fe</text>
<text x="1567.5" y="1875.5" font-family='"Liberation Serif", serif' font-size="49" fill="#000" text-anchor="start">2+</text>
<text x="1567.5" y="1929" font-family='"Liberation Serif", serif' font-size="49" fill="#000" text-anchor="start">oct</text>
<text x="1501" y="2027.5" font-family='"Liberation Serif", serif' font-size="67" fill="#000" text-anchor="start">Fe</text>
<text x="1567.5" y="1995.5" font-family='"Liberation Serif", serif' font-size="49" fill="#000" text-anchor="start">3+</text>
<text x="1567.5" y="2049" font-family='"Liberation Serif", serif' font-size="49" fill="#000" text-anchor="start">tet</text>
<text x="1501" y="2151" font-family='"Liberation Serif", serif' font-size="67" fill="#000" text-anchor="start">Fe</text>
<text x="1567.5" y="2119" font-family='"Liberation Serif", serif' font-size="49" fill="#000" text-anchor="start">3+</text>
<text x="1567.5" y="2172.5" font-family='"Liberation Serif", serif' font-size="49" fill="#000" text-anchor="start">oct</text>
</svg>
</body></html>
